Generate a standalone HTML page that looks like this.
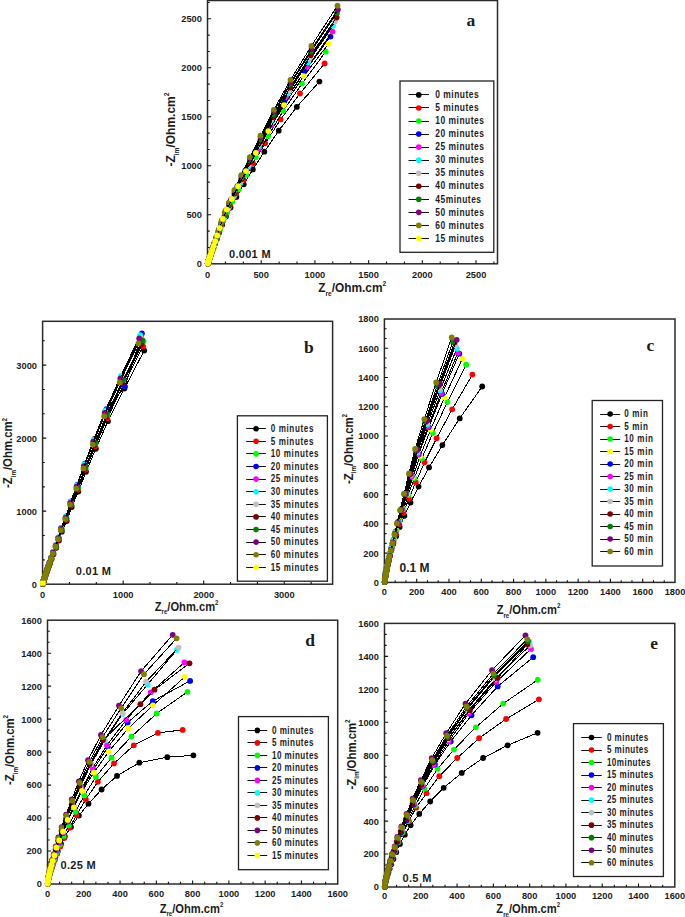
<!DOCTYPE html>
<html><head><meta charset="utf-8"><style>
html,body{margin:0;padding:0;background:#fff;}
body{width:685px;height:917px;overflow:hidden;}
svg{display:block;}
</style></head><body>
<svg width="685" height="917" viewBox="0 0 685 917">
<rect width="685" height="917" fill="#fff"/>
<rect x="207.50" y="0.50" width="290.00" height="263.30" fill="none" stroke="#2a2a2a" stroke-width="1.5"/>
<path d="M225.40 263.80V261.60M243.30 263.80V261.60M261.20 263.80V260.20M279.10 263.80V261.60M297.01 263.80V261.60M314.91 263.80V260.20M332.81 263.80V261.60M350.71 263.80V261.60M368.61 263.80V260.20M386.51 263.80V261.60M404.41 263.80V261.60M422.31 263.80V260.20M440.22 263.80V261.60M458.12 263.80V261.60M476.02 263.80V260.20M493.92 263.80V261.60M207.50 247.47H209.70M207.50 231.13H209.70M207.50 214.80H211.10M207.50 198.47H209.70M207.50 182.13H209.70M207.50 165.80H211.10M207.50 149.47H209.70M207.50 133.13H209.70M207.50 116.80H211.10M207.50 100.47H209.70M207.50 84.13H209.70M207.50 67.80H211.10M207.50 51.47H209.70M207.50 35.13H209.70M207.50 18.80H211.10M207.50 2.47H209.70" stroke="#111" stroke-width="1.1" fill="none"/>
<g font-family="Liberation Sans, sans-serif" font-weight="bold" font-size="9.3" letter-spacing="0.0" fill="#1c1c1c"><text transform="translate(207.50,277.70) scale(1.0,1.05)" text-anchor="middle">0</text><text transform="translate(261.20,277.70) scale(1.0,1.05)" text-anchor="middle">500</text><text transform="translate(314.91,277.70) scale(1.0,1.05)" text-anchor="middle">1000</text><text transform="translate(368.61,277.70) scale(1.0,1.05)" text-anchor="middle">1500</text><text transform="translate(422.31,277.70) scale(1.0,1.05)" text-anchor="middle">2000</text><text transform="translate(476.02,277.70) scale(1.0,1.05)" text-anchor="middle">2500</text><text transform="translate(201.90,267.20) scale(1.0,1.05)" text-anchor="end">0</text><text transform="translate(201.90,218.20) scale(1.0,1.05)" text-anchor="end">500</text><text transform="translate(201.90,169.20) scale(1.0,1.05)" text-anchor="end">1000</text><text transform="translate(201.90,120.20) scale(1.0,1.05)" text-anchor="end">1500</text><text transform="translate(201.90,71.20) scale(1.0,1.05)" text-anchor="end">2000</text><text transform="translate(201.90,22.20) scale(1.0,1.05)" text-anchor="end">2500</text></g>
<clipPath id="cpa"><rect x="203.50" y="-4.80" width="298.00" height="272.60"/></clipPath>
<g clip-path="url(#cpa)">
<path d="M319.40 81.60L296.80 106.88L278.76 130.65L264.36 151.71L252.88 169.44L243.71 184.36L236.40 196.93L230.56 207.50L225.90 216.41L222.18 224.71L219.22 232.60L216.85 238.91L214.96 243.93L213.45 247.95L212.25 251.15L211.29 253.70L210.53 255.74L209.91 257.37L209.43 258.67L209.04 259.71L208.73 260.53L208.48 261.19L208.28 261.72L208.12 262.14L208.00 262.48L207.80 263.50" stroke="#000" stroke-width="1.0" fill="none" shape-rendering="crispEdges"/>
<g fill="#000000"><circle cx="319.40" cy="81.60" r="2.9"/><circle cx="296.80" cy="106.88" r="2.9"/><circle cx="278.76" cy="130.65" r="2.9"/><circle cx="264.36" cy="151.71" r="2.9"/><circle cx="252.88" cy="169.44" r="2.9"/><circle cx="243.71" cy="184.36" r="2.9"/><circle cx="236.40" cy="196.93" r="2.9"/><circle cx="230.56" cy="207.50" r="2.9"/><circle cx="225.90" cy="216.41" r="2.9"/><circle cx="222.18" cy="224.71" r="2.9"/><circle cx="219.22" cy="232.60" r="2.9"/><circle cx="216.85" cy="238.91" r="2.9"/><circle cx="214.96" cy="243.93" r="2.9"/><circle cx="213.45" cy="247.95" r="2.9"/><circle cx="212.25" cy="251.15" r="2.9"/><circle cx="211.29" cy="253.70" r="2.9"/><circle cx="210.53" cy="255.74" r="2.9"/><circle cx="209.91" cy="257.37" r="2.9"/><circle cx="209.43" cy="258.67" r="2.9"/><circle cx="209.04" cy="259.71" r="2.9"/><circle cx="208.73" cy="260.53" r="2.9"/><circle cx="208.48" cy="261.19" r="2.9"/><circle cx="208.28" cy="261.72" r="2.9"/><circle cx="208.12" cy="262.14" r="2.9"/><circle cx="208.00" cy="262.48" r="2.9"/><circle cx="207.80" cy="263.50" r="2.9"/></g>
<path d="M324.60 63.50L300.01 93.49L280.58 119.45L265.23 143.36L253.11 163.30L243.53 179.94L235.97 193.83L229.99 205.42L225.27 215.08L221.53 224.37L218.59 232.65L216.26 239.19L214.42 244.36L212.97 248.44L211.82 251.67L210.91 254.21L210.20 256.23L209.63 257.82L209.18 259.07L208.83 260.07L208.55 260.85L208.33 261.47L208.16 261.96L208.02 262.35L207.91 262.65L207.80 263.50" stroke="#000" stroke-width="1.0" fill="none" shape-rendering="crispEdges"/>
<g fill="#ff0000"><circle cx="324.60" cy="63.50" r="2.9"/><circle cx="300.01" cy="93.49" r="2.9"/><circle cx="280.58" cy="119.45" r="2.9"/><circle cx="265.23" cy="143.36" r="2.9"/><circle cx="253.11" cy="163.30" r="2.9"/><circle cx="243.53" cy="179.94" r="2.9"/><circle cx="235.97" cy="193.83" r="2.9"/><circle cx="229.99" cy="205.42" r="2.9"/><circle cx="225.27" cy="215.08" r="2.9"/><circle cx="221.53" cy="224.37" r="2.9"/><circle cx="218.59" cy="232.65" r="2.9"/><circle cx="216.26" cy="239.19" r="2.9"/><circle cx="214.42" cy="244.36" r="2.9"/><circle cx="212.97" cy="248.44" r="2.9"/><circle cx="211.82" cy="251.67" r="2.9"/><circle cx="210.91" cy="254.21" r="2.9"/><circle cx="210.20" cy="256.23" r="2.9"/><circle cx="209.63" cy="257.82" r="2.9"/><circle cx="209.18" cy="259.07" r="2.9"/><circle cx="208.83" cy="260.07" r="2.9"/><circle cx="208.55" cy="260.85" r="2.9"/><circle cx="208.33" cy="261.47" r="2.9"/><circle cx="208.16" cy="261.96" r="2.9"/><circle cx="208.02" cy="262.35" r="2.9"/><circle cx="207.91" cy="262.65" r="2.9"/><circle cx="207.80" cy="263.50" r="2.9"/></g>
<path d="M325.70 51.70L302.06 83.58L283.15 110.86L268.02 136.15L255.91 157.26L246.23 174.88L238.49 189.58L232.29 201.85L227.33 212.10L223.36 220.71L220.19 229.33L217.65 236.23L215.62 241.74L214.00 246.15L212.70 249.68L211.66 252.51L210.83 254.76L210.16 256.57L209.63 258.02L209.20 259.17L208.86 260.10L208.59 260.84L208.37 261.43L208.20 261.91L208.06 262.28L207.95 262.59L207.80 263.50" stroke="#000" stroke-width="1.0" fill="none" shape-rendering="crispEdges"/>
<g fill="#00ff00"><circle cx="325.70" cy="51.70" r="2.9"/><circle cx="302.06" cy="83.58" r="2.9"/><circle cx="283.15" cy="110.86" r="2.9"/><circle cx="268.02" cy="136.15" r="2.9"/><circle cx="255.91" cy="157.26" r="2.9"/><circle cx="246.23" cy="174.88" r="2.9"/><circle cx="238.49" cy="189.58" r="2.9"/><circle cx="232.29" cy="201.85" r="2.9"/><circle cx="227.33" cy="212.10" r="2.9"/><circle cx="223.36" cy="220.71" r="2.9"/><circle cx="220.19" cy="229.33" r="2.9"/><circle cx="217.65" cy="236.23" r="2.9"/><circle cx="215.62" cy="241.74" r="2.9"/><circle cx="214.00" cy="246.15" r="2.9"/><circle cx="212.70" cy="249.68" r="2.9"/><circle cx="211.66" cy="252.51" r="2.9"/><circle cx="210.83" cy="254.76" r="2.9"/><circle cx="210.16" cy="256.57" r="2.9"/><circle cx="209.63" cy="258.02" r="2.9"/><circle cx="209.20" cy="259.17" r="2.9"/><circle cx="208.86" cy="260.10" r="2.9"/><circle cx="208.59" cy="260.84" r="2.9"/><circle cx="208.37" cy="261.43" r="2.9"/><circle cx="208.20" cy="261.91" r="2.9"/><circle cx="208.06" cy="262.28" r="2.9"/><circle cx="207.95" cy="262.59" r="2.9"/><circle cx="207.80" cy="263.50" r="2.9"/></g>
<path d="M330.50 36.60L304.67 71.34L284.26 101.30L268.14 128.72L255.41 151.51L245.35 170.46L237.40 186.21L231.12 199.30L226.16 210.18L222.24 220.01L219.15 229.21L216.70 236.47L214.77 242.21L213.24 246.74L212.04 250.33L211.08 253.16L210.33 255.39L209.74 257.16L209.27 258.55L208.90 259.65L208.60 260.52L208.37 261.21L208.19 261.76L208.04 262.19L207.93 262.52L207.80 263.50" stroke="#000" stroke-width="1.0" fill="none" shape-rendering="crispEdges"/>
<g fill="#0000ff"><circle cx="330.50" cy="36.60" r="2.9"/><circle cx="304.67" cy="71.34" r="2.9"/><circle cx="284.26" cy="101.30" r="2.9"/><circle cx="268.14" cy="128.72" r="2.9"/><circle cx="255.41" cy="151.51" r="2.9"/><circle cx="245.35" cy="170.46" r="2.9"/><circle cx="237.40" cy="186.21" r="2.9"/><circle cx="231.12" cy="199.30" r="2.9"/><circle cx="226.16" cy="210.18" r="2.9"/><circle cx="222.24" cy="220.01" r="2.9"/><circle cx="219.15" cy="229.21" r="2.9"/><circle cx="216.70" cy="236.47" r="2.9"/><circle cx="214.77" cy="242.21" r="2.9"/><circle cx="213.24" cy="246.74" r="2.9"/><circle cx="212.04" cy="250.33" r="2.9"/><circle cx="211.08" cy="253.16" r="2.9"/><circle cx="210.33" cy="255.39" r="2.9"/><circle cx="209.74" cy="257.16" r="2.9"/><circle cx="209.27" cy="258.55" r="2.9"/><circle cx="208.90" cy="259.65" r="2.9"/><circle cx="208.60" cy="260.52" r="2.9"/><circle cx="208.37" cy="261.21" r="2.9"/><circle cx="208.19" cy="261.76" r="2.9"/><circle cx="208.04" cy="262.19" r="2.9"/><circle cx="207.93" cy="262.52" r="2.9"/><circle cx="207.80" cy="263.50" r="2.9"/></g>
<path d="M332.50 31.60L307.50 67.03L287.50 97.26L271.50 125.17L258.70 148.40L248.46 167.74L240.27 183.84L233.71 197.24L228.47 208.40L224.28 217.68L220.92 226.59L218.24 234.03L216.09 239.99L214.37 244.75L213.00 248.56L211.90 251.61L211.02 254.05L210.31 256.00L209.75 257.56L209.30 258.81L208.94 259.80L208.65 260.60L208.42 261.24L208.24 261.75L208.09 262.16L207.97 262.49L207.80 263.50" stroke="#000" stroke-width="1.0" fill="none" shape-rendering="crispEdges"/>
<g fill="#ff00ff"><circle cx="332.50" cy="31.60" r="2.9"/><circle cx="307.50" cy="67.03" r="2.9"/><circle cx="287.50" cy="97.26" r="2.9"/><circle cx="271.50" cy="125.17" r="2.9"/><circle cx="258.70" cy="148.40" r="2.9"/><circle cx="248.46" cy="167.74" r="2.9"/><circle cx="240.27" cy="183.84" r="2.9"/><circle cx="233.71" cy="197.24" r="2.9"/><circle cx="228.47" cy="208.40" r="2.9"/><circle cx="224.28" cy="217.68" r="2.9"/><circle cx="220.92" cy="226.59" r="2.9"/><circle cx="218.24" cy="234.03" r="2.9"/><circle cx="216.09" cy="239.99" r="2.9"/><circle cx="214.37" cy="244.75" r="2.9"/><circle cx="213.00" cy="248.56" r="2.9"/><circle cx="211.90" cy="251.61" r="2.9"/><circle cx="211.02" cy="254.05" r="2.9"/><circle cx="210.31" cy="256.00" r="2.9"/><circle cx="209.75" cy="257.56" r="2.9"/><circle cx="209.30" cy="258.81" r="2.9"/><circle cx="208.94" cy="259.80" r="2.9"/><circle cx="208.65" cy="260.60" r="2.9"/><circle cx="208.42" cy="261.24" r="2.9"/><circle cx="208.24" cy="261.75" r="2.9"/><circle cx="208.09" cy="262.16" r="2.9"/><circle cx="207.97" cy="262.49" r="2.9"/><circle cx="207.80" cy="263.50" r="2.9"/></g>
<path d="M333.10 25.80L307.98 62.34L287.88 93.48L271.81 122.18L258.95 146.05L248.66 165.89L240.43 182.39L233.84 196.11L228.57 207.52L224.36 217.00L220.99 226.02L218.29 233.58L216.13 239.62L214.40 244.46L213.02 248.33L211.92 251.42L211.04 253.90L210.33 255.88L209.76 257.46L209.31 258.73L208.95 259.74L208.66 260.55L208.43 261.20L208.24 261.72L208.09 262.14L207.97 262.47L207.80 263.50" stroke="#000" stroke-width="1.0" fill="none" shape-rendering="crispEdges"/>
<g fill="#00ffff"><circle cx="333.10" cy="25.80" r="2.9"/><circle cx="307.98" cy="62.34" r="2.9"/><circle cx="287.88" cy="93.48" r="2.9"/><circle cx="271.81" cy="122.18" r="2.9"/><circle cx="258.95" cy="146.05" r="2.9"/><circle cx="248.66" cy="165.89" r="2.9"/><circle cx="240.43" cy="182.39" r="2.9"/><circle cx="233.84" cy="196.11" r="2.9"/><circle cx="228.57" cy="207.52" r="2.9"/><circle cx="224.36" cy="217.00" r="2.9"/><circle cx="220.99" cy="226.02" r="2.9"/><circle cx="218.29" cy="233.58" r="2.9"/><circle cx="216.13" cy="239.62" r="2.9"/><circle cx="214.40" cy="244.46" r="2.9"/><circle cx="213.02" cy="248.33" r="2.9"/><circle cx="211.92" cy="251.42" r="2.9"/><circle cx="211.04" cy="253.90" r="2.9"/><circle cx="210.33" cy="255.88" r="2.9"/><circle cx="209.76" cy="257.46" r="2.9"/><circle cx="209.31" cy="258.73" r="2.9"/><circle cx="208.95" cy="259.74" r="2.9"/><circle cx="208.66" cy="260.55" r="2.9"/><circle cx="208.43" cy="261.20" r="2.9"/><circle cx="208.24" cy="261.72" r="2.9"/><circle cx="208.09" cy="262.14" r="2.9"/><circle cx="207.97" cy="262.47" r="2.9"/><circle cx="207.80" cy="263.50" r="2.9"/></g>
<path d="M335.00 21.50L309.50 58.61L289.10 90.25L272.78 119.43L259.72 143.71L249.28 163.90L240.92 180.70L234.24 194.67L228.89 206.29L224.61 215.96L221.19 225.08L218.45 232.82L216.26 239.02L214.51 243.97L213.11 247.94L211.99 251.11L211.09 253.65L210.37 255.68L209.80 257.30L209.34 258.60L208.97 259.64L208.68 260.47L208.44 261.14L208.25 261.67L208.10 262.10L207.98 262.44L207.80 263.50" stroke="#000" stroke-width="1.0" fill="none" shape-rendering="crispEdges"/>
<g fill="#c0c0c0"><circle cx="335.00" cy="21.50" r="2.9"/><circle cx="309.50" cy="58.61" r="2.9"/><circle cx="289.10" cy="90.25" r="2.9"/><circle cx="272.78" cy="119.43" r="2.9"/><circle cx="259.72" cy="143.71" r="2.9"/><circle cx="249.28" cy="163.90" r="2.9"/><circle cx="240.92" cy="180.70" r="2.9"/><circle cx="234.24" cy="194.67" r="2.9"/><circle cx="228.89" cy="206.29" r="2.9"/><circle cx="224.61" cy="215.96" r="2.9"/><circle cx="221.19" cy="225.08" r="2.9"/><circle cx="218.45" cy="232.82" r="2.9"/><circle cx="216.26" cy="239.02" r="2.9"/><circle cx="214.51" cy="243.97" r="2.9"/><circle cx="213.11" cy="247.94" r="2.9"/><circle cx="211.99" cy="251.11" r="2.9"/><circle cx="211.09" cy="253.65" r="2.9"/><circle cx="210.37" cy="255.68" r="2.9"/><circle cx="209.80" cy="257.30" r="2.9"/><circle cx="209.34" cy="258.60" r="2.9"/><circle cx="208.97" cy="259.64" r="2.9"/><circle cx="208.68" cy="260.47" r="2.9"/><circle cx="208.44" cy="261.14" r="2.9"/><circle cx="208.25" cy="261.67" r="2.9"/><circle cx="208.10" cy="262.10" r="2.9"/><circle cx="207.98" cy="262.44" r="2.9"/><circle cx="207.80" cy="263.50" r="2.9"/></g>
<path d="M336.60 17.50L310.78 55.22L290.12 87.39L273.60 117.05L260.38 141.72L249.80 162.25L241.34 179.33L234.57 193.53L229.16 205.34L224.83 215.17L221.36 224.35L218.59 232.24L216.37 238.55L214.60 243.60L213.18 247.64L212.04 250.87L211.13 253.46L210.41 255.53L209.83 257.18L209.36 258.51L208.99 259.56L208.69 260.41L208.45 261.09L208.26 261.63L208.11 262.07L207.99 262.41L207.80 263.50" stroke="#000" stroke-width="1.0" fill="none" shape-rendering="crispEdges"/>
<g fill="#800000"><circle cx="336.60" cy="17.50" r="2.9"/><circle cx="310.78" cy="55.22" r="2.9"/><circle cx="290.12" cy="87.39" r="2.9"/><circle cx="273.60" cy="117.05" r="2.9"/><circle cx="260.38" cy="141.72" r="2.9"/><circle cx="249.80" cy="162.25" r="2.9"/><circle cx="241.34" cy="179.33" r="2.9"/><circle cx="234.57" cy="193.53" r="2.9"/><circle cx="229.16" cy="205.34" r="2.9"/><circle cx="224.83" cy="215.17" r="2.9"/><circle cx="221.36" cy="224.35" r="2.9"/><circle cx="218.59" cy="232.24" r="2.9"/><circle cx="216.37" cy="238.55" r="2.9"/><circle cx="214.60" cy="243.60" r="2.9"/><circle cx="213.18" cy="247.64" r="2.9"/><circle cx="212.04" cy="250.87" r="2.9"/><circle cx="211.13" cy="253.46" r="2.9"/><circle cx="210.41" cy="255.53" r="2.9"/><circle cx="209.83" cy="257.18" r="2.9"/><circle cx="209.36" cy="258.51" r="2.9"/><circle cx="208.99" cy="259.56" r="2.9"/><circle cx="208.69" cy="260.41" r="2.9"/><circle cx="208.45" cy="261.09" r="2.9"/><circle cx="208.26" cy="261.63" r="2.9"/><circle cx="208.11" cy="262.07" r="2.9"/><circle cx="207.99" cy="262.41" r="2.9"/><circle cx="207.80" cy="263.50" r="2.9"/></g>
<path d="M336.90 13.10L311.02 51.50L290.32 84.24L273.75 114.43L260.50 139.54L249.90 160.44L241.42 177.82L234.64 192.27L229.21 204.30L224.87 214.30L221.39 223.63L218.62 231.66L216.39 238.09L214.61 243.23L213.19 247.35L212.05 250.64L211.14 253.27L210.41 255.38L209.83 257.06L209.36 258.41L208.99 259.49L208.69 260.35L208.45 261.04L208.26 261.59L208.11 262.03L207.99 262.39L207.80 263.50" stroke="#000" stroke-width="1.0" fill="none" shape-rendering="crispEdges"/>
<g fill="#008000"><circle cx="336.90" cy="13.10" r="2.9"/><circle cx="311.02" cy="51.50" r="2.9"/><circle cx="290.32" cy="84.24" r="2.9"/><circle cx="273.75" cy="114.43" r="2.9"/><circle cx="260.50" cy="139.54" r="2.9"/><circle cx="249.90" cy="160.44" r="2.9"/><circle cx="241.42" cy="177.82" r="2.9"/><circle cx="234.64" cy="192.27" r="2.9"/><circle cx="229.21" cy="204.30" r="2.9"/><circle cx="224.87" cy="214.30" r="2.9"/><circle cx="221.39" cy="223.63" r="2.9"/><circle cx="218.62" cy="231.66" r="2.9"/><circle cx="216.39" cy="238.09" r="2.9"/><circle cx="214.61" cy="243.23" r="2.9"/><circle cx="213.19" cy="247.35" r="2.9"/><circle cx="212.05" cy="250.64" r="2.9"/><circle cx="211.14" cy="253.27" r="2.9"/><circle cx="210.41" cy="255.38" r="2.9"/><circle cx="209.83" cy="257.06" r="2.9"/><circle cx="209.36" cy="258.41" r="2.9"/><circle cx="208.99" cy="259.49" r="2.9"/><circle cx="208.69" cy="260.35" r="2.9"/><circle cx="208.45" cy="261.04" r="2.9"/><circle cx="208.26" cy="261.59" r="2.9"/><circle cx="208.11" cy="262.03" r="2.9"/><circle cx="207.99" cy="262.39" r="2.9"/><circle cx="207.80" cy="263.50" r="2.9"/></g>
<path d="M337.90 9.60L311.69 48.97L290.75 82.25L274.01 111.56L260.65 137.01L249.96 158.20L241.43 175.85L234.61 190.55L229.16 202.79L224.81 212.99L221.33 222.61L218.55 230.89L216.33 237.50L214.55 242.79L213.14 247.01L212.00 250.39L211.10 253.08L210.37 255.24L209.80 256.96L209.34 258.33L208.97 259.43L208.67 260.31L208.44 261.01L208.25 261.57L208.10 262.02L207.98 262.38L207.80 263.50" stroke="#000" stroke-width="1.0" fill="none" shape-rendering="crispEdges"/>
<g fill="#800080"><circle cx="337.90" cy="9.60" r="2.9"/><circle cx="311.69" cy="48.97" r="2.9"/><circle cx="290.75" cy="82.25" r="2.9"/><circle cx="274.01" cy="111.56" r="2.9"/><circle cx="260.65" cy="137.01" r="2.9"/><circle cx="249.96" cy="158.20" r="2.9"/><circle cx="241.43" cy="175.85" r="2.9"/><circle cx="234.61" cy="190.55" r="2.9"/><circle cx="229.16" cy="202.79" r="2.9"/><circle cx="224.81" cy="212.99" r="2.9"/><circle cx="221.33" cy="222.61" r="2.9"/><circle cx="218.55" cy="230.89" r="2.9"/><circle cx="216.33" cy="237.50" r="2.9"/><circle cx="214.55" cy="242.79" r="2.9"/><circle cx="213.14" cy="247.01" r="2.9"/><circle cx="212.00" cy="250.39" r="2.9"/><circle cx="211.10" cy="253.08" r="2.9"/><circle cx="210.37" cy="255.24" r="2.9"/><circle cx="209.80" cy="256.96" r="2.9"/><circle cx="209.34" cy="258.33" r="2.9"/><circle cx="208.97" cy="259.43" r="2.9"/><circle cx="208.67" cy="260.31" r="2.9"/><circle cx="208.44" cy="261.01" r="2.9"/><circle cx="208.25" cy="261.57" r="2.9"/><circle cx="208.10" cy="262.02" r="2.9"/><circle cx="207.98" cy="262.38" r="2.9"/><circle cx="207.80" cy="263.50" r="2.9"/></g>
<path d="M337.50 5.70L311.37 45.97L290.49 79.96L273.81 109.81L260.48 135.66L249.83 157.18L241.32 175.08L234.53 189.97L229.09 202.37L224.75 212.68L221.29 222.39L218.51 230.72L216.30 237.37L214.53 242.68L213.12 246.92L211.99 250.32L211.09 253.03L210.37 255.19L209.79 256.92L209.33 258.30L208.96 259.41L208.67 260.29L208.43 261.00L208.25 261.56L208.10 262.01L207.98 262.37L207.80 263.50" stroke="#000" stroke-width="1.0" fill="none" shape-rendering="crispEdges"/>
<g fill="#808000"><circle cx="337.50" cy="5.70" r="2.9"/><circle cx="311.37" cy="45.97" r="2.9"/><circle cx="290.49" cy="79.96" r="2.9"/><circle cx="273.81" cy="109.81" r="2.9"/><circle cx="260.48" cy="135.66" r="2.9"/><circle cx="249.83" cy="157.18" r="2.9"/><circle cx="241.32" cy="175.08" r="2.9"/><circle cx="234.53" cy="189.97" r="2.9"/><circle cx="229.09" cy="202.37" r="2.9"/><circle cx="224.75" cy="212.68" r="2.9"/><circle cx="221.29" cy="222.39" r="2.9"/><circle cx="218.51" cy="230.72" r="2.9"/><circle cx="216.30" cy="237.37" r="2.9"/><circle cx="214.53" cy="242.68" r="2.9"/><circle cx="213.12" cy="246.92" r="2.9"/><circle cx="211.99" cy="250.32" r="2.9"/><circle cx="211.09" cy="253.03" r="2.9"/><circle cx="210.37" cy="255.19" r="2.9"/><circle cx="209.79" cy="256.92" r="2.9"/><circle cx="209.33" cy="258.30" r="2.9"/><circle cx="208.96" cy="259.41" r="2.9"/><circle cx="208.67" cy="260.29" r="2.9"/><circle cx="208.43" cy="261.00" r="2.9"/><circle cx="208.25" cy="261.56" r="2.9"/><circle cx="208.10" cy="262.01" r="2.9"/><circle cx="207.98" cy="262.37" r="2.9"/><circle cx="207.80" cy="263.50" r="2.9"/></g>
<path d="M328.60 43.80L303.77 76.05L284.04 105.04L268.35 131.08L255.87 152.85L245.96 171.05L238.07 186.27L231.81 198.99L226.82 209.62L222.86 218.91L219.71 228.11L217.21 235.43L215.22 241.24L213.64 245.87L212.38 249.54L211.38 252.47L210.58 254.79L209.95 256.64L209.45 258.11L209.05 259.27L208.73 260.20L208.48 260.94L208.28 261.53L208.12 261.99L207.99 262.36L207.80 263.50" stroke="#000" stroke-width="1.0" fill="none" shape-rendering="crispEdges"/>
<g fill="#ffff00"><circle cx="328.60" cy="43.80" r="2.9"/><circle cx="303.77" cy="76.05" r="2.9"/><circle cx="284.04" cy="105.04" r="2.9"/><circle cx="268.35" cy="131.08" r="2.9"/><circle cx="255.87" cy="152.85" r="2.9"/><circle cx="245.96" cy="171.05" r="2.9"/><circle cx="238.07" cy="186.27" r="2.9"/><circle cx="231.81" cy="198.99" r="2.9"/><circle cx="226.82" cy="209.62" r="2.9"/><circle cx="222.86" cy="218.91" r="2.9"/><circle cx="219.71" cy="228.11" r="2.9"/><circle cx="217.21" cy="235.43" r="2.9"/><circle cx="215.22" cy="241.24" r="2.9"/><circle cx="213.64" cy="245.87" r="2.9"/><circle cx="212.38" cy="249.54" r="2.9"/><circle cx="211.38" cy="252.47" r="2.9"/><circle cx="210.58" cy="254.79" r="2.9"/><circle cx="209.95" cy="256.64" r="2.9"/><circle cx="209.45" cy="258.11" r="2.9"/><circle cx="209.05" cy="259.27" r="2.9"/><circle cx="208.73" cy="260.20" r="2.9"/><circle cx="208.48" cy="260.94" r="2.9"/><circle cx="208.28" cy="261.53" r="2.9"/><circle cx="208.12" cy="261.99" r="2.9"/><circle cx="207.99" cy="262.36" r="2.9"/><circle cx="207.80" cy="263.50" r="2.9"/></g>
</g>
<rect x="400.00" y="81.00" width="93.80" height="171.30" fill="#fff" stroke="#222" stroke-width="1.3"/>
<path d="M408.50 94.50h20.50" stroke="#111" stroke-width="1"/><circle cx="418.75" cy="94.90" r="2.8" fill="#000000"/><path d="M408.50 107.50h20.50" stroke="#111" stroke-width="1"/><circle cx="418.75" cy="107.95" r="2.8" fill="#ff0000"/><path d="M408.50 121.50h20.50" stroke="#111" stroke-width="1"/><circle cx="418.75" cy="121.00" r="2.8" fill="#00ff00"/><path d="M408.50 134.50h20.50" stroke="#111" stroke-width="1"/><circle cx="418.75" cy="134.05" r="2.8" fill="#0000ff"/><path d="M408.50 147.50h20.50" stroke="#111" stroke-width="1"/><circle cx="418.75" cy="147.10" r="2.8" fill="#ff00ff"/><path d="M408.50 160.50h20.50" stroke="#111" stroke-width="1"/><circle cx="418.75" cy="160.15" r="2.8" fill="#00ffff"/><path d="M408.50 173.50h20.50" stroke="#111" stroke-width="1"/><circle cx="418.75" cy="173.20" r="2.8" fill="#c0c0c0"/><path d="M408.50 186.50h20.50" stroke="#111" stroke-width="1"/><circle cx="418.75" cy="186.25" r="2.8" fill="#800000"/><path d="M408.50 199.50h20.50" stroke="#111" stroke-width="1"/><circle cx="418.75" cy="199.30" r="2.8" fill="#008000"/><path d="M408.50 212.50h20.50" stroke="#111" stroke-width="1"/><circle cx="418.75" cy="212.35" r="2.8" fill="#800080"/><path d="M408.50 225.50h20.50" stroke="#111" stroke-width="1"/><circle cx="418.75" cy="225.40" r="2.8" fill="#808000"/><path d="M408.50 238.50h20.50" stroke="#111" stroke-width="1"/><circle cx="418.75" cy="238.45" r="2.8" fill="#ffff00"/>
<g font-family="Liberation Sans, sans-serif" font-weight="bold" font-size="9.4" letter-spacing="0.55" fill="#1c1c1c"><text transform="translate(435.30,98.10) scale(0.9,1.13)">0 minutes</text><text transform="translate(435.30,111.15) scale(0.9,1.13)">5 minutes</text><text transform="translate(435.30,124.20) scale(0.9,1.13)">10 minutes</text><text transform="translate(435.30,137.25) scale(0.9,1.13)">20 minutes</text><text transform="translate(435.30,150.30) scale(0.9,1.13)">25 minutes</text><text transform="translate(435.30,163.35) scale(0.9,1.13)">30 minutes</text><text transform="translate(435.30,176.40) scale(0.9,1.13)">35 minutes</text><text transform="translate(435.30,189.45) scale(0.9,1.13)">40 minutes</text><text transform="translate(435.30,202.50) scale(0.9,1.13)">45minutes</text><text transform="translate(435.30,215.55) scale(0.9,1.13)">50 minutes</text><text transform="translate(435.30,228.60) scale(0.9,1.13)">60 minutes</text><text transform="translate(435.30,241.65) scale(0.9,1.13)">15 minutes</text></g>
<text transform="translate(174.70,129.60) rotate(-90) scale(0.93,1.05)" text-anchor="middle" font-family="Liberation Sans, sans-serif" font-weight="bold" font-size="12.9" fill="#1c1c1c">-Z<tspan font-size="7.10" dy="3.87">im</tspan><tspan dy="-3.87">/Ohm.cm</tspan><tspan font-size="7.10" dy="-5.81">2</tspan></text>
<text transform="translate(352.20,292.40) scale(0.93,1.05)" text-anchor="middle" font-family="Liberation Sans, sans-serif" font-weight="bold" font-size="12.8" fill="#1c1c1c">Z<tspan font-size="7.04" dy="3.84">re</tspan><tspan dy="-3.84">/Ohm.cm</tspan><tspan font-size="7.04" dy="-5.76">2</tspan></text>
<text x="466.60" y="25.70" font-family="Liberation Serif, serif" font-weight="bold" font-size="17.5" fill="#1c1c1c">a</text>
<text x="229.00" y="257.60" font-family="Liberation Sans, sans-serif" font-weight="bold" font-size="11.0" letter-spacing="0.3" fill="#1c1c1c">0.001 M</text>
<rect x="42.60" y="321.30" width="290.00" height="262.90" fill="none" stroke="#2a2a2a" stroke-width="1.5"/>
<path d="M69.45 584.20V582.00M96.30 584.20V582.00M123.16 584.20V580.60M150.01 584.20V582.00M176.86 584.20V582.00M203.71 584.20V580.60M230.56 584.20V582.00M257.41 584.20V582.00M284.27 584.20V580.60M311.12 584.20V582.00M42.60 559.86H44.80M42.60 535.51H44.80M42.60 511.17H46.20M42.60 486.83H44.80M42.60 462.49H44.80M42.60 438.14H46.20M42.60 413.80H44.80M42.60 389.46H44.80M42.60 365.12H46.20M42.60 340.77H44.80" stroke="#111" stroke-width="1.1" fill="none"/>
<g font-family="Liberation Sans, sans-serif" font-weight="bold" font-size="9.3" letter-spacing="0.0" fill="#1c1c1c"><text transform="translate(42.60,598.30) scale(1.0,1.05)" text-anchor="middle">0</text><text transform="translate(123.16,598.30) scale(1.0,1.05)" text-anchor="middle">1000</text><text transform="translate(203.71,598.30) scale(1.0,1.05)" text-anchor="middle">2000</text><text transform="translate(284.27,598.30) scale(1.0,1.05)" text-anchor="middle">3000</text><text transform="translate(37.00,587.60) scale(1.0,1.05)" text-anchor="end">0</text><text transform="translate(37.00,514.57) scale(1.0,1.05)" text-anchor="end">1000</text><text transform="translate(37.00,441.54) scale(1.0,1.05)" text-anchor="end">2000</text><text transform="translate(37.00,368.52) scale(1.0,1.05)" text-anchor="end">3000</text></g>
<clipPath id="cpb"><rect x="38.60" y="317.30" width="298.00" height="270.90"/></clipPath>
<g clip-path="url(#cpb)">
<path d="M144.20 350.60L124.37 388.53L107.93 421.22L95.84 448.77L85.98 471.86L78.34 491.56L71.66 506.98L66.67 521.05L61.80 531.72L58.93 540.55L56.28 547.82L53.42 554.22L51.47 559.33L49.87 563.56L48.56 567.07L47.49 569.99L46.61 572.40L45.89 574.41L45.30 576.08L44.81 577.46L44.41 578.61L44.09 579.56L43.82 580.35L43.60 581.00L43.42 581.55L43.27 582.00L43.15 582.37L43.05 582.68L42.90 583.90" stroke="#000" stroke-width="1.0" fill="none" shape-rendering="crispEdges"/>
<g fill="#000000"><circle cx="144.20" cy="350.60" r="2.9"/><circle cx="124.37" cy="388.53" r="2.9"/><circle cx="107.93" cy="421.22" r="2.9"/><circle cx="95.84" cy="448.77" r="2.9"/><circle cx="85.98" cy="471.86" r="2.9"/><circle cx="78.34" cy="491.56" r="2.9"/><circle cx="71.66" cy="506.98" r="2.9"/><circle cx="66.67" cy="521.05" r="2.9"/><circle cx="61.80" cy="531.72" r="2.9"/><circle cx="58.93" cy="540.55" r="2.9"/><circle cx="56.28" cy="547.82" r="2.9"/><circle cx="53.42" cy="554.22" r="2.9"/><circle cx="51.47" cy="559.33" r="2.9"/><circle cx="49.87" cy="563.56" r="2.9"/><circle cx="48.56" cy="567.07" r="2.9"/><circle cx="47.49" cy="569.99" r="2.9"/><circle cx="46.61" cy="572.40" r="2.9"/><circle cx="45.89" cy="574.41" r="2.9"/><circle cx="45.30" cy="576.08" r="2.9"/><circle cx="44.81" cy="577.46" r="2.9"/><circle cx="44.41" cy="578.61" r="2.9"/><circle cx="44.09" cy="579.56" r="2.9"/><circle cx="43.82" cy="580.35" r="2.9"/><circle cx="43.60" cy="581.00" r="2.9"/><circle cx="43.42" cy="581.55" r="2.9"/><circle cx="43.27" cy="582.00" r="2.9"/><circle cx="43.15" cy="582.37" r="2.9"/><circle cx="43.05" cy="582.68" r="2.9"/><circle cx="42.90" cy="583.90" r="2.9"/></g>
<path d="M143.10 346.30L123.48 384.93L107.22 418.22L95.26 446.28L85.51 469.79L77.95 489.85L71.34 505.56L66.41 519.88L61.59 530.75L58.76 539.74L56.13 547.15L53.30 553.67L51.37 558.87L49.79 563.18L48.50 566.76L47.44 569.72L46.57 572.19L45.85 574.23L45.27 575.93L44.79 577.34L44.39 578.50L44.07 579.47L43.81 580.28L43.59 580.95L43.41 581.50L43.26 581.96L43.15 582.34L43.05 582.66L42.90 583.90" stroke="#000" stroke-width="1.0" fill="none" shape-rendering="crispEdges"/>
<g fill="#ff0000"><circle cx="143.10" cy="346.30" r="2.9"/><circle cx="123.48" cy="384.93" r="2.9"/><circle cx="107.22" cy="418.22" r="2.9"/><circle cx="95.26" cy="446.28" r="2.9"/><circle cx="85.51" cy="469.79" r="2.9"/><circle cx="77.95" cy="489.85" r="2.9"/><circle cx="71.34" cy="505.56" r="2.9"/><circle cx="66.41" cy="519.88" r="2.9"/><circle cx="61.59" cy="530.75" r="2.9"/><circle cx="58.76" cy="539.74" r="2.9"/><circle cx="56.13" cy="547.15" r="2.9"/><circle cx="53.30" cy="553.67" r="2.9"/><circle cx="51.37" cy="558.87" r="2.9"/><circle cx="49.79" cy="563.18" r="2.9"/><circle cx="48.50" cy="566.76" r="2.9"/><circle cx="47.44" cy="569.72" r="2.9"/><circle cx="46.57" cy="572.19" r="2.9"/><circle cx="45.85" cy="574.23" r="2.9"/><circle cx="45.27" cy="575.93" r="2.9"/><circle cx="44.79" cy="577.34" r="2.9"/><circle cx="44.39" cy="578.50" r="2.9"/><circle cx="44.07" cy="579.47" r="2.9"/><circle cx="43.81" cy="580.28" r="2.9"/><circle cx="43.59" cy="580.95" r="2.9"/><circle cx="43.41" cy="581.50" r="2.9"/><circle cx="43.26" cy="581.96" r="2.9"/><circle cx="43.15" cy="582.34" r="2.9"/><circle cx="43.05" cy="582.66" r="2.9"/><circle cx="42.90" cy="583.90" r="2.9"/></g>
<path d="M143.60 341.60L123.88 380.99L107.54 414.94L95.52 443.56L85.72 467.53L78.13 487.99L71.49 504.00L66.53 518.61L61.68 529.70L58.84 538.86L56.20 546.42L53.35 553.07L51.42 558.37L49.83 562.76L48.53 566.41L47.46 569.44L46.59 571.95L45.87 574.04L45.28 575.76L44.80 577.20L44.40 578.39L44.08 579.38L43.81 580.20L43.59 580.88L43.41 581.45L43.27 581.91L43.15 582.30L43.05 582.63L42.90 583.90" stroke="#000" stroke-width="1.0" fill="none" shape-rendering="crispEdges"/>
<g fill="#00ff00"><circle cx="143.60" cy="341.60" r="2.9"/><circle cx="123.88" cy="380.99" r="2.9"/><circle cx="107.54" cy="414.94" r="2.9"/><circle cx="95.52" cy="443.56" r="2.9"/><circle cx="85.72" cy="467.53" r="2.9"/><circle cx="78.13" cy="487.99" r="2.9"/><circle cx="71.49" cy="504.00" r="2.9"/><circle cx="66.53" cy="518.61" r="2.9"/><circle cx="61.68" cy="529.70" r="2.9"/><circle cx="58.84" cy="538.86" r="2.9"/><circle cx="56.20" cy="546.42" r="2.9"/><circle cx="53.35" cy="553.07" r="2.9"/><circle cx="51.42" cy="558.37" r="2.9"/><circle cx="49.83" cy="562.76" r="2.9"/><circle cx="48.53" cy="566.41" r="2.9"/><circle cx="47.46" cy="569.44" r="2.9"/><circle cx="46.59" cy="571.95" r="2.9"/><circle cx="45.87" cy="574.04" r="2.9"/><circle cx="45.28" cy="575.76" r="2.9"/><circle cx="44.80" cy="577.20" r="2.9"/><circle cx="44.40" cy="578.39" r="2.9"/><circle cx="44.08" cy="579.38" r="2.9"/><circle cx="43.81" cy="580.20" r="2.9"/><circle cx="43.59" cy="580.88" r="2.9"/><circle cx="43.41" cy="581.45" r="2.9"/><circle cx="43.27" cy="581.91" r="2.9"/><circle cx="43.15" cy="582.30" r="2.9"/><circle cx="43.05" cy="582.63" r="2.9"/><circle cx="42.90" cy="583.90" r="2.9"/></g>
<path d="M141.90 333.40L125.00 386.60L106.45 409.22L94.63 438.80L84.99 463.59L77.53 484.73L71.00 501.29L66.13 516.40L61.36 527.85L58.56 537.33L55.97 545.14L53.17 552.02L51.27 557.49L49.71 562.04L48.43 565.81L47.38 568.94L46.52 571.54L45.81 573.69L45.24 575.48L44.76 576.96L44.37 578.20L44.05 579.22L43.79 580.07L43.58 580.77L43.40 581.35L43.26 581.84L43.14 582.24L43.04 582.57L42.90 583.90" stroke="#000" stroke-width="1.0" fill="none" shape-rendering="crispEdges"/>
<g fill="#0000ff"><circle cx="141.90" cy="333.40" r="2.9"/><circle cx="125.00" cy="386.60" r="2.9"/><circle cx="106.45" cy="409.22" r="2.9"/><circle cx="94.63" cy="438.80" r="2.9"/><circle cx="84.99" cy="463.59" r="2.9"/><circle cx="77.53" cy="484.73" r="2.9"/><circle cx="71.00" cy="501.29" r="2.9"/><circle cx="66.13" cy="516.40" r="2.9"/><circle cx="61.36" cy="527.85" r="2.9"/><circle cx="58.56" cy="537.33" r="2.9"/><circle cx="55.97" cy="545.14" r="2.9"/><circle cx="53.17" cy="552.02" r="2.9"/><circle cx="51.27" cy="557.49" r="2.9"/><circle cx="49.71" cy="562.04" r="2.9"/><circle cx="48.43" cy="565.81" r="2.9"/><circle cx="47.38" cy="568.94" r="2.9"/><circle cx="46.52" cy="571.54" r="2.9"/><circle cx="45.81" cy="573.69" r="2.9"/><circle cx="45.24" cy="575.48" r="2.9"/><circle cx="44.76" cy="576.96" r="2.9"/><circle cx="44.37" cy="578.20" r="2.9"/><circle cx="44.05" cy="579.22" r="2.9"/><circle cx="43.79" cy="580.07" r="2.9"/><circle cx="43.58" cy="580.77" r="2.9"/><circle cx="43.40" cy="581.35" r="2.9"/><circle cx="43.26" cy="581.84" r="2.9"/><circle cx="43.14" cy="582.24" r="2.9"/><circle cx="43.04" cy="582.57" r="2.9"/><circle cx="42.90" cy="583.90" r="2.9"/></g>
<path d="M141.00 336.00L121.79 376.30L105.87 411.04L94.16 440.31L84.61 464.84L77.21 485.77L70.74 502.15L65.92 517.10L61.19 528.44L58.42 537.82L55.85 545.55L53.08 552.35L51.19 557.77L49.64 562.27L48.38 566.00L47.34 569.10L46.48 571.67L45.79 573.80L45.21 575.57L44.74 577.04L44.36 578.26L44.04 579.27L43.78 580.11L43.57 580.80L43.39 581.38L43.25 581.86L43.13 582.26L43.04 582.59L42.90 583.90" stroke="#000" stroke-width="1.0" fill="none" shape-rendering="crispEdges"/>
<g fill="#ff00ff"><circle cx="141.00" cy="336.00" r="2.9"/><circle cx="121.79" cy="376.30" r="2.9"/><circle cx="105.87" cy="411.04" r="2.9"/><circle cx="94.16" cy="440.31" r="2.9"/><circle cx="84.61" cy="464.84" r="2.9"/><circle cx="77.21" cy="485.77" r="2.9"/><circle cx="70.74" cy="502.15" r="2.9"/><circle cx="65.92" cy="517.10" r="2.9"/><circle cx="61.19" cy="528.44" r="2.9"/><circle cx="58.42" cy="537.82" r="2.9"/><circle cx="55.85" cy="545.55" r="2.9"/><circle cx="53.08" cy="552.35" r="2.9"/><circle cx="51.19" cy="557.77" r="2.9"/><circle cx="49.64" cy="562.27" r="2.9"/><circle cx="48.38" cy="566.00" r="2.9"/><circle cx="47.34" cy="569.10" r="2.9"/><circle cx="46.48" cy="571.67" r="2.9"/><circle cx="45.79" cy="573.80" r="2.9"/><circle cx="45.21" cy="575.57" r="2.9"/><circle cx="44.74" cy="577.04" r="2.9"/><circle cx="44.36" cy="578.26" r="2.9"/><circle cx="44.04" cy="579.27" r="2.9"/><circle cx="43.78" cy="580.11" r="2.9"/><circle cx="43.57" cy="580.80" r="2.9"/><circle cx="43.39" cy="581.38" r="2.9"/><circle cx="43.25" cy="581.86" r="2.9"/><circle cx="43.13" cy="582.26" r="2.9"/><circle cx="43.04" cy="582.59" r="2.9"/><circle cx="42.90" cy="583.90" r="2.9"/></g>
<path d="M140.10 335.20L121.07 375.63L105.29 410.48L93.69 439.85L84.23 464.46L76.90 485.45L70.49 501.89L65.70 516.88L61.02 528.26L58.27 537.67L55.73 545.42L52.98 552.25L51.11 557.69L49.58 562.20L48.32 565.94L47.29 569.05L46.45 571.63L45.76 573.77L45.19 575.54L44.72 577.02L44.34 578.24L44.03 579.25L43.77 580.09L43.56 580.79L43.39 581.37L43.25 581.85L43.13 582.25L43.03 582.58L42.90 583.90" stroke="#000" stroke-width="1.0" fill="none" shape-rendering="crispEdges"/>
<g fill="#00ffff"><circle cx="140.10" cy="335.20" r="2.9"/><circle cx="121.07" cy="375.63" r="2.9"/><circle cx="105.29" cy="410.48" r="2.9"/><circle cx="93.69" cy="439.85" r="2.9"/><circle cx="84.23" cy="464.46" r="2.9"/><circle cx="76.90" cy="485.45" r="2.9"/><circle cx="70.49" cy="501.89" r="2.9"/><circle cx="65.70" cy="516.88" r="2.9"/><circle cx="61.02" cy="528.26" r="2.9"/><circle cx="58.27" cy="537.67" r="2.9"/><circle cx="55.73" cy="545.42" r="2.9"/><circle cx="52.98" cy="552.25" r="2.9"/><circle cx="51.11" cy="557.69" r="2.9"/><circle cx="49.58" cy="562.20" r="2.9"/><circle cx="48.32" cy="565.94" r="2.9"/><circle cx="47.29" cy="569.05" r="2.9"/><circle cx="46.45" cy="571.63" r="2.9"/><circle cx="45.76" cy="573.77" r="2.9"/><circle cx="45.19" cy="575.54" r="2.9"/><circle cx="44.72" cy="577.02" r="2.9"/><circle cx="44.34" cy="578.24" r="2.9"/><circle cx="44.03" cy="579.25" r="2.9"/><circle cx="43.77" cy="580.09" r="2.9"/><circle cx="43.56" cy="580.79" r="2.9"/><circle cx="43.39" cy="581.37" r="2.9"/><circle cx="43.25" cy="581.85" r="2.9"/><circle cx="43.13" cy="582.25" r="2.9"/><circle cx="43.03" cy="582.58" r="2.9"/><circle cx="42.90" cy="583.90" r="2.9"/></g>
<path d="M140.50 338.00L121.39 377.98L105.55 412.43L93.90 441.47L84.40 465.80L77.04 486.56L70.60 502.81L65.80 517.64L61.10 528.89L58.34 538.19L55.78 545.86L53.02 552.61L51.15 557.98L49.61 562.44L48.35 566.15L47.31 569.22L46.46 571.77L45.77 573.88L45.20 575.64L44.73 577.10L44.35 578.31L44.03 579.31L43.77 580.14L43.56 580.83L43.39 581.40L43.25 581.88L43.13 582.28L43.04 582.60L42.90 583.90" stroke="#000" stroke-width="1.0" fill="none" shape-rendering="crispEdges"/>
<g fill="#c0c0c0"><circle cx="140.50" cy="338.00" r="2.9"/><circle cx="121.39" cy="377.98" r="2.9"/><circle cx="105.55" cy="412.43" r="2.9"/><circle cx="93.90" cy="441.47" r="2.9"/><circle cx="84.40" cy="465.80" r="2.9"/><circle cx="77.04" cy="486.56" r="2.9"/><circle cx="70.60" cy="502.81" r="2.9"/><circle cx="65.80" cy="517.64" r="2.9"/><circle cx="61.10" cy="528.89" r="2.9"/><circle cx="58.34" cy="538.19" r="2.9"/><circle cx="55.78" cy="545.86" r="2.9"/><circle cx="53.02" cy="552.61" r="2.9"/><circle cx="51.15" cy="557.98" r="2.9"/><circle cx="49.61" cy="562.44" r="2.9"/><circle cx="48.35" cy="566.15" r="2.9"/><circle cx="47.31" cy="569.22" r="2.9"/><circle cx="46.46" cy="571.77" r="2.9"/><circle cx="45.77" cy="573.88" r="2.9"/><circle cx="45.20" cy="575.64" r="2.9"/><circle cx="44.73" cy="577.10" r="2.9"/><circle cx="44.35" cy="578.31" r="2.9"/><circle cx="44.03" cy="579.31" r="2.9"/><circle cx="43.77" cy="580.14" r="2.9"/><circle cx="43.56" cy="580.83" r="2.9"/><circle cx="43.39" cy="581.40" r="2.9"/><circle cx="43.25" cy="581.88" r="2.9"/><circle cx="43.13" cy="582.28" r="2.9"/><circle cx="43.04" cy="582.60" r="2.9"/><circle cx="42.90" cy="583.90" r="2.9"/></g>
<path d="M141.50 344.00L122.19 383.00L106.19 416.62L94.42 444.95L84.82 468.69L77.39 488.94L70.89 504.80L66.03 519.26L61.29 530.23L58.50 539.31L55.92 546.79L53.13 553.38L51.23 558.62L49.68 562.98L48.41 566.59L47.36 569.58L46.50 572.07L45.80 574.14L45.22 575.85L44.75 577.27L44.37 578.45L44.05 579.43L43.79 580.24L43.57 580.91L43.40 581.47L43.25 581.94L43.14 582.32L43.04 582.64L42.90 583.90" stroke="#000" stroke-width="1.0" fill="none" shape-rendering="crispEdges"/>
<g fill="#800000"><circle cx="141.50" cy="344.00" r="2.9"/><circle cx="122.19" cy="383.00" r="2.9"/><circle cx="106.19" cy="416.62" r="2.9"/><circle cx="94.42" cy="444.95" r="2.9"/><circle cx="84.82" cy="468.69" r="2.9"/><circle cx="77.39" cy="488.94" r="2.9"/><circle cx="70.89" cy="504.80" r="2.9"/><circle cx="66.03" cy="519.26" r="2.9"/><circle cx="61.29" cy="530.23" r="2.9"/><circle cx="58.50" cy="539.31" r="2.9"/><circle cx="55.92" cy="546.79" r="2.9"/><circle cx="53.13" cy="553.38" r="2.9"/><circle cx="51.23" cy="558.62" r="2.9"/><circle cx="49.68" cy="562.98" r="2.9"/><circle cx="48.41" cy="566.59" r="2.9"/><circle cx="47.36" cy="569.58" r="2.9"/><circle cx="46.50" cy="572.07" r="2.9"/><circle cx="45.80" cy="574.14" r="2.9"/><circle cx="45.22" cy="575.85" r="2.9"/><circle cx="44.75" cy="577.27" r="2.9"/><circle cx="44.37" cy="578.45" r="2.9"/><circle cx="44.05" cy="579.43" r="2.9"/><circle cx="43.79" cy="580.24" r="2.9"/><circle cx="43.57" cy="580.91" r="2.9"/><circle cx="43.40" cy="581.47" r="2.9"/><circle cx="43.25" cy="581.94" r="2.9"/><circle cx="43.14" cy="582.32" r="2.9"/><circle cx="43.04" cy="582.64" r="2.9"/><circle cx="42.90" cy="583.90" r="2.9"/></g>
<path d="M142.50 340.50L123.00 380.07L106.84 414.18L94.95 442.92L85.25 467.01L77.74 487.55L71.17 503.64L66.27 518.32L61.47 529.45L58.66 538.66L56.05 546.25L53.24 552.93L51.32 558.25L49.75 562.67L48.46 566.33L47.41 569.37L46.54 571.89L45.83 573.99L45.25 575.73L44.77 577.17L44.38 578.37L44.06 579.36L43.80 580.18L43.58 580.87L43.41 581.43L43.26 581.90L43.14 582.29L43.04 582.62L42.90 583.90" stroke="#000" stroke-width="1.0" fill="none" shape-rendering="crispEdges"/>
<g fill="#008000"><circle cx="142.50" cy="340.50" r="2.9"/><circle cx="123.00" cy="380.07" r="2.9"/><circle cx="106.84" cy="414.18" r="2.9"/><circle cx="94.95" cy="442.92" r="2.9"/><circle cx="85.25" cy="467.01" r="2.9"/><circle cx="77.74" cy="487.55" r="2.9"/><circle cx="71.17" cy="503.64" r="2.9"/><circle cx="66.27" cy="518.32" r="2.9"/><circle cx="61.47" cy="529.45" r="2.9"/><circle cx="58.66" cy="538.66" r="2.9"/><circle cx="56.05" cy="546.25" r="2.9"/><circle cx="53.24" cy="552.93" r="2.9"/><circle cx="51.32" cy="558.25" r="2.9"/><circle cx="49.75" cy="562.67" r="2.9"/><circle cx="48.46" cy="566.33" r="2.9"/><circle cx="47.41" cy="569.37" r="2.9"/><circle cx="46.54" cy="571.89" r="2.9"/><circle cx="45.83" cy="573.99" r="2.9"/><circle cx="45.25" cy="575.73" r="2.9"/><circle cx="44.77" cy="577.17" r="2.9"/><circle cx="44.38" cy="578.37" r="2.9"/><circle cx="44.06" cy="579.36" r="2.9"/><circle cx="43.80" cy="580.18" r="2.9"/><circle cx="43.58" cy="580.87" r="2.9"/><circle cx="43.41" cy="581.43" r="2.9"/><circle cx="43.26" cy="581.90" r="2.9"/><circle cx="43.14" cy="582.29" r="2.9"/><circle cx="43.04" cy="582.62" r="2.9"/><circle cx="42.90" cy="583.90" r="2.9"/></g>
<path d="M139.20 338.50L120.34 378.40L104.71 412.78L93.22 441.76L83.84 466.04L76.58 486.76L70.23 502.98L65.49 517.78L60.85 529.00L58.13 538.28L55.61 545.94L52.89 552.67L51.03 558.04L49.52 562.49L48.27 566.18L47.25 569.25L46.41 571.79L45.73 573.91L45.16 575.66L44.70 577.11L44.32 578.32L44.01 579.32L43.76 580.15L43.55 580.84L43.38 581.41L43.24 581.89L43.12 582.28L43.03 582.61L42.90 583.90" stroke="#000" stroke-width="1.0" fill="none" shape-rendering="crispEdges"/>
<g fill="#800080"><circle cx="139.20" cy="338.50" r="2.9"/><circle cx="120.34" cy="378.40" r="2.9"/><circle cx="104.71" cy="412.78" r="2.9"/><circle cx="93.22" cy="441.76" r="2.9"/><circle cx="83.84" cy="466.04" r="2.9"/><circle cx="76.58" cy="486.76" r="2.9"/><circle cx="70.23" cy="502.98" r="2.9"/><circle cx="65.49" cy="517.78" r="2.9"/><circle cx="60.85" cy="529.00" r="2.9"/><circle cx="58.13" cy="538.28" r="2.9"/><circle cx="55.61" cy="545.94" r="2.9"/><circle cx="52.89" cy="552.67" r="2.9"/><circle cx="51.03" cy="558.04" r="2.9"/><circle cx="49.52" cy="562.49" r="2.9"/><circle cx="48.27" cy="566.18" r="2.9"/><circle cx="47.25" cy="569.25" r="2.9"/><circle cx="46.41" cy="571.79" r="2.9"/><circle cx="45.73" cy="573.91" r="2.9"/><circle cx="45.16" cy="575.66" r="2.9"/><circle cx="44.70" cy="577.11" r="2.9"/><circle cx="44.32" cy="578.32" r="2.9"/><circle cx="44.01" cy="579.32" r="2.9"/><circle cx="43.76" cy="580.15" r="2.9"/><circle cx="43.55" cy="580.84" r="2.9"/><circle cx="43.38" cy="581.41" r="2.9"/><circle cx="43.24" cy="581.89" r="2.9"/><circle cx="43.12" cy="582.28" r="2.9"/><circle cx="43.03" cy="582.61" r="2.9"/><circle cx="42.90" cy="583.90" r="2.9"/></g>
<path d="M138.40 343.40L119.70 382.50L104.20 416.20L92.80 444.60L83.50 468.40L76.30 488.70L70.00 504.60L65.30 519.10L60.70 530.10L58.00 539.20L55.50 546.70L52.80 553.30L50.96 558.56L49.46 562.92L48.22 566.54L47.21 569.55L46.38 572.04L45.70 574.11L45.14 575.83L44.69 577.25L44.31 578.43L44.00 579.42L43.75 580.23L43.54 580.91L43.37 581.47L43.23 581.93L43.12 582.32L43.03 582.64L42.90 583.90" stroke="#000" stroke-width="1.0" fill="none" shape-rendering="crispEdges"/>
<g fill="#808000"><circle cx="138.40" cy="343.40" r="2.9"/><circle cx="119.70" cy="382.50" r="2.9"/><circle cx="104.20" cy="416.20" r="2.9"/><circle cx="92.80" cy="444.60" r="2.9"/><circle cx="83.50" cy="468.40" r="2.9"/><circle cx="76.30" cy="488.70" r="2.9"/><circle cx="70.00" cy="504.60" r="2.9"/><circle cx="65.30" cy="519.10" r="2.9"/><circle cx="60.70" cy="530.10" r="2.9"/><circle cx="58.00" cy="539.20" r="2.9"/><circle cx="55.50" cy="546.70" r="2.9"/><circle cx="52.80" cy="553.30" r="2.9"/><circle cx="50.96" cy="558.56" r="2.9"/><circle cx="49.46" cy="562.92" r="2.9"/><circle cx="48.22" cy="566.54" r="2.9"/><circle cx="47.21" cy="569.55" r="2.9"/><circle cx="46.38" cy="572.04" r="2.9"/><circle cx="45.70" cy="574.11" r="2.9"/><circle cx="45.14" cy="575.83" r="2.9"/><circle cx="44.69" cy="577.25" r="2.9"/><circle cx="44.31" cy="578.43" r="2.9"/><circle cx="44.00" cy="579.42" r="2.9"/><circle cx="43.75" cy="580.23" r="2.9"/><circle cx="43.54" cy="580.91" r="2.9"/><circle cx="43.37" cy="581.47" r="2.9"/><circle cx="43.23" cy="581.93" r="2.9"/><circle cx="43.12" cy="582.32" r="2.9"/><circle cx="43.03" cy="582.64" r="2.9"/><circle cx="42.90" cy="583.90" r="2.9"/></g>
<rect x="40.10" y="580.70" width="5.5" height="5" fill="#ffff00"/>
</g>
<rect x="237.40" y="415.80" width="90.00" height="165.40" fill="#fff" stroke="#222" stroke-width="1.3"/>
<path d="M246.20 428.50h19.70" stroke="#111" stroke-width="1"/><circle cx="256.05" cy="428.70" r="2.8" fill="#000000"/><path d="M246.20 441.50h19.70" stroke="#111" stroke-width="1"/><circle cx="256.05" cy="441.30" r="2.8" fill="#ff0000"/><path d="M246.20 453.50h19.70" stroke="#111" stroke-width="1"/><circle cx="256.05" cy="453.90" r="2.8" fill="#00ff00"/><path d="M246.20 466.50h19.70" stroke="#111" stroke-width="1"/><circle cx="256.05" cy="466.50" r="2.8" fill="#0000ff"/><path d="M246.20 479.50h19.70" stroke="#111" stroke-width="1"/><circle cx="256.05" cy="479.10" r="2.8" fill="#ff00ff"/><path d="M246.20 491.50h19.70" stroke="#111" stroke-width="1"/><circle cx="256.05" cy="491.70" r="2.8" fill="#00ffff"/><path d="M246.20 504.50h19.70" stroke="#111" stroke-width="1"/><circle cx="256.05" cy="504.30" r="2.8" fill="#c0c0c0"/><path d="M246.20 516.50h19.70" stroke="#111" stroke-width="1"/><circle cx="256.05" cy="516.90" r="2.8" fill="#800000"/><path d="M246.20 529.50h19.70" stroke="#111" stroke-width="1"/><circle cx="256.05" cy="529.50" r="2.8" fill="#008000"/><path d="M246.20 542.50h19.70" stroke="#111" stroke-width="1"/><circle cx="256.05" cy="542.10" r="2.8" fill="#800080"/><path d="M246.20 554.50h19.70" stroke="#111" stroke-width="1"/><circle cx="256.05" cy="554.70" r="2.8" fill="#808000"/><path d="M246.20 567.50h19.70" stroke="#111" stroke-width="1"/><circle cx="256.05" cy="567.30" r="2.8" fill="#ffff00"/>
<g font-family="Liberation Sans, sans-serif" font-weight="bold" font-size="9.0" letter-spacing="0.68" fill="#1c1c1c"><text transform="translate(270.70,431.90) scale(0.9,1.13)">0 minutes</text><text transform="translate(270.70,444.50) scale(0.9,1.13)">5 minutes</text><text transform="translate(270.70,457.10) scale(0.9,1.13)">10 minutes</text><text transform="translate(270.70,469.70) scale(0.9,1.13)">20 minutes</text><text transform="translate(270.70,482.30) scale(0.9,1.13)">25 minutes</text><text transform="translate(270.70,494.90) scale(0.9,1.13)">30 minutes</text><text transform="translate(270.70,507.50) scale(0.9,1.13)">35 minutes</text><text transform="translate(270.70,520.10) scale(0.9,1.13)">40 minutes</text><text transform="translate(270.70,532.70) scale(0.9,1.13)">45 minutes</text><text transform="translate(270.70,545.30) scale(0.9,1.13)">50 minutes</text><text transform="translate(270.70,557.90) scale(0.9,1.13)">60 minutes</text><text transform="translate(270.70,570.50) scale(0.9,1.13)">15 minutes</text></g>
<text transform="translate(12.40,453.00) rotate(-90) scale(0.93,1.05)" text-anchor="middle" font-family="Liberation Sans, sans-serif" font-weight="bold" font-size="12.25" fill="#1c1c1c">-Z<tspan font-size="6.74" dy="3.67">im</tspan><tspan dy="-3.67">/Ohm.cm</tspan><tspan font-size="6.74" dy="-5.51">2</tspan></text>
<text transform="translate(186.60,610.60) scale(0.93,1.05)" text-anchor="middle" font-family="Liberation Sans, sans-serif" font-weight="bold" font-size="12.0" fill="#1c1c1c">Z<tspan font-size="6.60" dy="3.60">re</tspan><tspan dy="-3.60">/Ohm.cm</tspan><tspan font-size="6.60" dy="-5.40">2</tspan></text>
<text x="304.00" y="353.40" font-family="Liberation Serif, serif" font-weight="bold" font-size="17.5" fill="#1c1c1c">b</text>
<text x="75.80" y="575.00" font-family="Liberation Sans, sans-serif" font-weight="bold" font-size="11.0" letter-spacing="0.3" fill="#1c1c1c">0.01 M</text>
<rect x="384.40" y="319.00" width="290.60" height="263.40" fill="none" stroke="#2a2a2a" stroke-width="1.5"/>
<path d="M395.16 582.40V580.20M405.93 582.40V580.20M416.69 582.40V578.80M427.45 582.40V580.20M438.21 582.40V580.20M448.98 582.40V578.80M459.74 582.40V580.20M470.50 582.40V580.20M481.27 582.40V578.80M492.03 582.40V580.20M502.79 582.40V580.20M513.56 582.40V578.80M524.32 582.40V580.20M535.08 582.40V580.20M545.84 582.40V578.80M556.61 582.40V580.20M567.37 582.40V580.20M578.13 582.40V578.80M588.90 582.40V580.20M599.66 582.40V580.20M610.42 582.40V578.80M621.19 582.40V580.20M631.95 582.40V580.20M642.71 582.40V578.80M653.47 582.40V580.20M664.24 582.40V580.20M384.40 572.64H386.60M384.40 562.89H386.60M384.40 553.13H388.00M384.40 543.38H386.60M384.40 533.62H386.60M384.40 523.87H388.00M384.40 514.11H386.60M384.40 504.36H386.60M384.40 494.60H388.00M384.40 484.84H386.60M384.40 475.09H386.60M384.40 465.33H388.00M384.40 455.58H386.60M384.40 445.82H386.60M384.40 436.07H388.00M384.40 426.31H386.60M384.40 416.56H386.60M384.40 406.80H388.00M384.40 397.04H386.60M384.40 387.29H386.60M384.40 377.53H388.00M384.40 367.78H386.60M384.40 358.02H386.60M384.40 348.27H388.00M384.40 338.51H386.60M384.40 328.76H386.60" stroke="#111" stroke-width="1.1" fill="none"/>
<g font-family="Liberation Sans, sans-serif" font-weight="bold" font-size="9.3" letter-spacing="0.0" fill="#1c1c1c"><text transform="translate(384.40,594.90) scale(1.0,1.05)" text-anchor="middle">0</text><text transform="translate(416.69,594.90) scale(1.0,1.05)" text-anchor="middle">200</text><text transform="translate(448.98,594.90) scale(1.0,1.05)" text-anchor="middle">400</text><text transform="translate(481.27,594.90) scale(1.0,1.05)" text-anchor="middle">600</text><text transform="translate(513.56,594.90) scale(1.0,1.05)" text-anchor="middle">800</text><text transform="translate(545.84,594.90) scale(1.0,1.05)" text-anchor="middle">1000</text><text transform="translate(578.13,594.90) scale(1.0,1.05)" text-anchor="middle">1200</text><text transform="translate(610.42,594.90) scale(1.0,1.05)" text-anchor="middle">1400</text><text transform="translate(642.71,594.90) scale(1.0,1.05)" text-anchor="middle">1600</text><text transform="translate(675.00,594.90) scale(1.0,1.05)" text-anchor="middle">1800</text><text transform="translate(378.80,585.80) scale(1.0,1.05)" text-anchor="end">0</text><text transform="translate(378.80,556.53) scale(1.0,1.05)" text-anchor="end">200</text><text transform="translate(378.80,527.27) scale(1.0,1.05)" text-anchor="end">400</text><text transform="translate(378.80,498.00) scale(1.0,1.05)" text-anchor="end">600</text><text transform="translate(378.80,468.73) scale(1.0,1.05)" text-anchor="end">800</text><text transform="translate(378.80,439.47) scale(1.0,1.05)" text-anchor="end">1000</text><text transform="translate(378.80,410.20) scale(1.0,1.05)" text-anchor="end">1200</text><text transform="translate(378.80,380.93) scale(1.0,1.05)" text-anchor="end">1400</text><text transform="translate(378.80,351.67) scale(1.0,1.05)" text-anchor="end">1600</text><text transform="translate(378.80,322.40) scale(1.0,1.05)" text-anchor="end">1800</text></g>
<clipPath id="cpc"><rect x="380.40" y="315.00" width="298.60" height="271.40"/></clipPath>
<g clip-path="url(#cpc)">
<path d="M482.20 386.50L459.71 418.40L442.39 445.10L429.05 467.46L418.56 486.60L410.53 502.55L404.39 515.85L399.69 526.93L396.10 536.17L393.35 543.87L391.25 550.29L389.64 555.63L388.41 560.09L387.46 563.81L386.74 566.90L386.19 569.48L385.77 571.63L385.45 573.43L385.20 574.92L385.01 576.17L384.87 577.20L384.70 582.10" stroke="#000" stroke-width="1.0" fill="none" shape-rendering="crispEdges"/>
<g fill="#000000"><circle cx="482.20" cy="386.50" r="2.9"/><circle cx="459.71" cy="418.40" r="2.9"/><circle cx="442.39" cy="445.10" r="2.9"/><circle cx="429.05" cy="467.46" r="2.9"/><circle cx="418.56" cy="486.60" r="2.9"/><circle cx="410.53" cy="502.55" r="2.9"/><circle cx="404.39" cy="515.85" r="2.9"/><circle cx="399.69" cy="526.93" r="2.9"/><circle cx="396.10" cy="536.17" r="2.9"/><circle cx="393.35" cy="543.87" r="2.9"/><circle cx="391.25" cy="550.29" r="2.9"/><circle cx="389.64" cy="555.63" r="2.9"/><circle cx="388.41" cy="560.09" r="2.9"/><circle cx="387.46" cy="563.81" r="2.9"/><circle cx="386.74" cy="566.90" r="2.9"/><circle cx="386.19" cy="569.48" r="2.9"/><circle cx="385.77" cy="571.63" r="2.9"/><circle cx="385.45" cy="573.43" r="2.9"/><circle cx="385.20" cy="574.92" r="2.9"/><circle cx="385.01" cy="576.17" r="2.9"/><circle cx="384.87" cy="577.20" r="2.9"/><circle cx="384.70" cy="582.10" r="2.9"/></g>
<path d="M472.40 374.60L452.16 409.34L436.58 438.28L424.57 462.37L415.74 482.24L408.84 498.85L403.47 512.71L399.27 524.27L396.00 533.91L393.45 541.96L391.46 548.67L389.90 554.26L388.69 558.93L387.75 562.82L387.01 566.07L386.44 568.78L385.99 571.04L385.64 572.92L385.37 574.50L385.15 575.81L384.99 576.90L384.86 577.81L384.70 582.10" stroke="#000" stroke-width="1.0" fill="none" shape-rendering="crispEdges"/>
<g fill="#ff0000"><circle cx="472.40" cy="374.60" r="2.9"/><circle cx="452.16" cy="409.34" r="2.9"/><circle cx="436.58" cy="438.28" r="2.9"/><circle cx="424.57" cy="462.37" r="2.9"/><circle cx="415.74" cy="482.24" r="2.9"/><circle cx="408.84" cy="498.85" r="2.9"/><circle cx="403.47" cy="512.71" r="2.9"/><circle cx="399.27" cy="524.27" r="2.9"/><circle cx="396.00" cy="533.91" r="2.9"/><circle cx="393.45" cy="541.96" r="2.9"/><circle cx="391.46" cy="548.67" r="2.9"/><circle cx="389.90" cy="554.26" r="2.9"/><circle cx="388.69" cy="558.93" r="2.9"/><circle cx="387.75" cy="562.82" r="2.9"/><circle cx="387.01" cy="566.07" r="2.9"/><circle cx="386.44" cy="568.78" r="2.9"/><circle cx="385.99" cy="571.04" r="2.9"/><circle cx="385.64" cy="572.92" r="2.9"/><circle cx="385.37" cy="574.50" r="2.9"/><circle cx="385.15" cy="575.81" r="2.9"/><circle cx="384.99" cy="576.90" r="2.9"/><circle cx="384.86" cy="577.81" r="2.9"/><circle cx="384.70" cy="582.10" r="2.9"/></g>
<path d="M466.20 364.70L447.39 402.04L432.90 432.98L421.74 458.61L414.28 478.30L408.30 494.93L403.52 508.90L399.70 520.64L396.64 530.51L394.19 538.80L392.23 545.76L390.67 551.62L389.41 556.53L388.41 560.67L387.61 564.14L386.97 567.05L386.45 569.51L386.04 571.57L385.71 573.30L385.45 574.75L385.24 575.97L385.07 577.00L384.94 577.86L384.83 578.59L384.70 582.10" stroke="#000" stroke-width="1.0" fill="none" shape-rendering="crispEdges"/>
<g fill="#00ff00"><circle cx="466.20" cy="364.70" r="2.9"/><circle cx="447.39" cy="402.04" r="2.9"/><circle cx="432.90" cy="432.98" r="2.9"/><circle cx="421.74" cy="458.61" r="2.9"/><circle cx="414.28" cy="478.30" r="2.9"/><circle cx="408.30" cy="494.93" r="2.9"/><circle cx="403.52" cy="508.90" r="2.9"/><circle cx="399.70" cy="520.64" r="2.9"/><circle cx="396.64" cy="530.51" r="2.9"/><circle cx="394.19" cy="538.80" r="2.9"/><circle cx="392.23" cy="545.76" r="2.9"/><circle cx="390.67" cy="551.62" r="2.9"/><circle cx="389.41" cy="556.53" r="2.9"/><circle cx="388.41" cy="560.67" r="2.9"/><circle cx="387.61" cy="564.14" r="2.9"/><circle cx="386.97" cy="567.05" r="2.9"/><circle cx="386.45" cy="569.51" r="2.9"/><circle cx="386.04" cy="571.57" r="2.9"/><circle cx="385.71" cy="573.30" r="2.9"/><circle cx="385.45" cy="574.75" r="2.9"/><circle cx="385.24" cy="575.97" r="2.9"/><circle cx="385.07" cy="577.00" r="2.9"/><circle cx="384.94" cy="577.86" r="2.9"/><circle cx="384.83" cy="578.59" r="2.9"/><circle cx="384.70" cy="582.10" r="2.9"/></g>
<path d="M462.40 358.60L444.46 397.47L430.65 429.60L420.01 456.14L412.89 476.78L407.19 494.15L402.63 508.66L398.99 520.78L396.07 530.91L393.73 539.38L391.87 546.45L390.37 552.36L389.18 557.30L388.22 561.43L387.46 564.88L386.85 567.76L386.36 570.17L385.97 572.18L385.65 573.86L385.40 575.26L385.20 576.44L385.04 577.42L384.91 578.24L384.81 578.92L384.70 582.10" stroke="#000" stroke-width="1.0" fill="none" shape-rendering="crispEdges"/>
<g fill="#ffff00"><circle cx="462.40" cy="358.60" r="2.9"/><circle cx="444.46" cy="397.47" r="2.9"/><circle cx="430.65" cy="429.60" r="2.9"/><circle cx="420.01" cy="456.14" r="2.9"/><circle cx="412.89" cy="476.78" r="2.9"/><circle cx="407.19" cy="494.15" r="2.9"/><circle cx="402.63" cy="508.66" r="2.9"/><circle cx="398.99" cy="520.78" r="2.9"/><circle cx="396.07" cy="530.91" r="2.9"/><circle cx="393.73" cy="539.38" r="2.9"/><circle cx="391.87" cy="546.45" r="2.9"/><circle cx="390.37" cy="552.36" r="2.9"/><circle cx="389.18" cy="557.30" r="2.9"/><circle cx="388.22" cy="561.43" r="2.9"/><circle cx="387.46" cy="564.88" r="2.9"/><circle cx="386.85" cy="567.76" r="2.9"/><circle cx="386.36" cy="570.17" r="2.9"/><circle cx="385.97" cy="572.18" r="2.9"/><circle cx="385.65" cy="573.86" r="2.9"/><circle cx="385.40" cy="575.26" r="2.9"/><circle cx="385.20" cy="576.44" r="2.9"/><circle cx="385.04" cy="577.42" r="2.9"/><circle cx="384.91" cy="578.24" r="2.9"/><circle cx="384.81" cy="578.92" r="2.9"/><circle cx="384.70" cy="582.10" r="2.9"/></g>
<path d="M459.30 353.70L442.07 393.92L428.81 427.06L418.59 454.38L411.76 475.89L406.28 493.89L401.91 508.86L398.41 521.29L395.60 531.62L393.36 540.21L391.57 547.34L390.14 553.27L388.99 558.19L388.07 562.29L387.34 565.69L386.75 568.51L386.28 570.86L385.90 572.81L385.60 574.43L385.36 575.78L385.17 576.90L385.02 577.83L384.89 578.60L384.70 582.10" stroke="#000" stroke-width="1.0" fill="none" shape-rendering="crispEdges"/>
<g fill="#0000ff"><circle cx="459.30" cy="353.70" r="2.9"/><circle cx="442.07" cy="393.92" r="2.9"/><circle cx="428.81" cy="427.06" r="2.9"/><circle cx="418.59" cy="454.38" r="2.9"/><circle cx="411.76" cy="475.89" r="2.9"/><circle cx="406.28" cy="493.89" r="2.9"/><circle cx="401.91" cy="508.86" r="2.9"/><circle cx="398.41" cy="521.29" r="2.9"/><circle cx="395.60" cy="531.62" r="2.9"/><circle cx="393.36" cy="540.21" r="2.9"/><circle cx="391.57" cy="547.34" r="2.9"/><circle cx="390.14" cy="553.27" r="2.9"/><circle cx="388.99" cy="558.19" r="2.9"/><circle cx="388.07" cy="562.29" r="2.9"/><circle cx="387.34" cy="565.69" r="2.9"/><circle cx="386.75" cy="568.51" r="2.9"/><circle cx="386.28" cy="570.86" r="2.9"/><circle cx="385.90" cy="572.81" r="2.9"/><circle cx="385.60" cy="574.43" r="2.9"/><circle cx="385.36" cy="575.78" r="2.9"/><circle cx="385.17" cy="576.90" r="2.9"/><circle cx="385.02" cy="577.83" r="2.9"/><circle cx="384.89" cy="578.60" r="2.9"/><circle cx="384.70" cy="582.10" r="2.9"/></g>
<path d="M457.80 352.80L440.92 393.42L427.92 426.86L417.91 454.38L411.21 476.17L405.85 494.38L401.56 509.46L398.13 521.96L395.38 532.32L393.18 540.90L391.43 548.02L390.02 553.91L388.90 558.79L388.00 562.84L387.28 566.19L386.70 568.97L386.24 571.27L385.87 573.18L385.58 574.76L385.34 576.07L385.15 577.15L385.00 578.05L384.88 578.80L384.70 582.10" stroke="#000" stroke-width="1.0" fill="none" shape-rendering="crispEdges"/>
<g fill="#ff00ff"><circle cx="457.80" cy="352.80" r="2.9"/><circle cx="440.92" cy="393.42" r="2.9"/><circle cx="427.92" cy="426.86" r="2.9"/><circle cx="417.91" cy="454.38" r="2.9"/><circle cx="411.21" cy="476.17" r="2.9"/><circle cx="405.85" cy="494.38" r="2.9"/><circle cx="401.56" cy="509.46" r="2.9"/><circle cx="398.13" cy="521.96" r="2.9"/><circle cx="395.38" cy="532.32" r="2.9"/><circle cx="393.18" cy="540.90" r="2.9"/><circle cx="391.43" cy="548.02" r="2.9"/><circle cx="390.02" cy="553.91" r="2.9"/><circle cx="388.90" cy="558.79" r="2.9"/><circle cx="388.00" cy="562.84" r="2.9"/><circle cx="387.28" cy="566.19" r="2.9"/><circle cx="386.70" cy="568.97" r="2.9"/><circle cx="386.24" cy="571.27" r="2.9"/><circle cx="385.87" cy="573.18" r="2.9"/><circle cx="385.58" cy="574.76" r="2.9"/><circle cx="385.34" cy="576.07" r="2.9"/><circle cx="385.15" cy="577.15" r="2.9"/><circle cx="385.00" cy="578.05" r="2.9"/><circle cx="384.88" cy="578.80" r="2.9"/><circle cx="384.70" cy="582.10" r="2.9"/></g>
<path d="M456.70 348.70L440.07 390.30L427.27 424.50L417.41 452.60L410.81 474.99L405.52 493.64L401.30 509.06L397.92 521.80L395.22 532.32L393.05 541.02L391.32 548.21L389.94 554.15L388.83 559.05L387.94 563.11L387.24 566.46L386.67 569.23L386.21 571.52L385.85 573.41L385.56 574.97L385.33 576.26L385.14 577.33L384.99 578.21L384.88 578.94L384.70 582.10" stroke="#000" stroke-width="1.0" fill="none" shape-rendering="crispEdges"/>
<g fill="#00ffff"><circle cx="456.70" cy="348.70" r="2.9"/><circle cx="440.07" cy="390.30" r="2.9"/><circle cx="427.27" cy="424.50" r="2.9"/><circle cx="417.41" cy="452.60" r="2.9"/><circle cx="410.81" cy="474.99" r="2.9"/><circle cx="405.52" cy="493.64" r="2.9"/><circle cx="401.30" cy="509.06" r="2.9"/><circle cx="397.92" cy="521.80" r="2.9"/><circle cx="395.22" cy="532.32" r="2.9"/><circle cx="393.05" cy="541.02" r="2.9"/><circle cx="391.32" cy="548.21" r="2.9"/><circle cx="389.94" cy="554.15" r="2.9"/><circle cx="388.83" cy="559.05" r="2.9"/><circle cx="387.94" cy="563.11" r="2.9"/><circle cx="387.24" cy="566.46" r="2.9"/><circle cx="386.67" cy="569.23" r="2.9"/><circle cx="386.21" cy="571.52" r="2.9"/><circle cx="385.85" cy="573.41" r="2.9"/><circle cx="385.56" cy="574.97" r="2.9"/><circle cx="385.33" cy="576.26" r="2.9"/><circle cx="385.14" cy="577.33" r="2.9"/><circle cx="384.99" cy="578.21" r="2.9"/><circle cx="384.88" cy="578.94" r="2.9"/><circle cx="384.70" cy="582.10" r="2.9"/></g>
<path d="M455.50 345.50L439.15 388.18L426.56 423.17L416.86 451.85L410.37 474.94L405.17 494.10L401.02 509.84L397.70 522.78L395.04 533.41L392.91 542.14L391.21 549.32L389.85 555.22L388.76 560.06L387.89 564.05L387.19 567.32L386.63 570.01L386.18 572.22L385.83 574.03L385.54 575.52L385.31 576.75L385.13 577.76L384.98 578.59L384.87 579.27L384.70 582.10" stroke="#000" stroke-width="1.0" fill="none" shape-rendering="crispEdges"/>
<g fill="#c0c0c0"><circle cx="455.50" cy="345.50" r="2.9"/><circle cx="439.15" cy="388.18" r="2.9"/><circle cx="426.56" cy="423.17" r="2.9"/><circle cx="416.86" cy="451.85" r="2.9"/><circle cx="410.37" cy="474.94" r="2.9"/><circle cx="405.17" cy="494.10" r="2.9"/><circle cx="401.02" cy="509.84" r="2.9"/><circle cx="397.70" cy="522.78" r="2.9"/><circle cx="395.04" cy="533.41" r="2.9"/><circle cx="392.91" cy="542.14" r="2.9"/><circle cx="391.21" cy="549.32" r="2.9"/><circle cx="389.85" cy="555.22" r="2.9"/><circle cx="388.76" cy="560.06" r="2.9"/><circle cx="387.89" cy="564.05" r="2.9"/><circle cx="387.19" cy="567.32" r="2.9"/><circle cx="386.63" cy="570.01" r="2.9"/><circle cx="386.18" cy="572.22" r="2.9"/><circle cx="385.83" cy="574.03" r="2.9"/><circle cx="385.54" cy="575.52" r="2.9"/><circle cx="385.31" cy="576.75" r="2.9"/><circle cx="385.13" cy="577.76" r="2.9"/><circle cx="384.98" cy="578.59" r="2.9"/><circle cx="384.87" cy="579.27" r="2.9"/><circle cx="384.70" cy="582.10" r="2.9"/></g>
<path d="M454.40 342.60L438.30 386.06L425.90 421.64L416.36 450.77L409.97 474.34L404.85 493.86L400.76 509.85L397.49 522.95L394.87 533.68L392.78 542.48L391.10 549.69L389.76 555.60L388.69 560.44L387.83 564.40L387.15 567.65L386.60 570.32L386.16 572.50L385.81 574.29L385.52 575.75L385.30 576.95L385.12 577.94L384.98 578.74L384.86 579.40L384.70 582.10" stroke="#000" stroke-width="1.0" fill="none" shape-rendering="crispEdges"/>
<g fill="#800000"><circle cx="454.40" cy="342.60" r="2.9"/><circle cx="438.30" cy="386.06" r="2.9"/><circle cx="425.90" cy="421.64" r="2.9"/><circle cx="416.36" cy="450.77" r="2.9"/><circle cx="409.97" cy="474.34" r="2.9"/><circle cx="404.85" cy="493.86" r="2.9"/><circle cx="400.76" cy="509.85" r="2.9"/><circle cx="397.49" cy="522.95" r="2.9"/><circle cx="394.87" cy="533.68" r="2.9"/><circle cx="392.78" cy="542.48" r="2.9"/><circle cx="391.10" cy="549.69" r="2.9"/><circle cx="389.76" cy="555.60" r="2.9"/><circle cx="388.69" cy="560.44" r="2.9"/><circle cx="387.83" cy="564.40" r="2.9"/><circle cx="387.15" cy="567.65" r="2.9"/><circle cx="386.60" cy="570.32" r="2.9"/><circle cx="386.16" cy="572.50" r="2.9"/><circle cx="385.81" cy="574.29" r="2.9"/><circle cx="385.52" cy="575.75" r="2.9"/><circle cx="385.30" cy="576.95" r="2.9"/><circle cx="385.12" cy="577.94" r="2.9"/><circle cx="384.98" cy="578.74" r="2.9"/><circle cx="384.86" cy="579.40" r="2.9"/><circle cx="384.70" cy="582.10" r="2.9"/></g>
<path d="M452.90 341.80L437.14 385.66L425.01 421.52L415.67 450.85L409.42 474.70L404.41 494.39L400.41 510.48L397.21 523.63L394.65 534.38L392.60 543.16L390.96 550.34L389.65 556.20L388.60 560.99L387.76 564.91L387.09 568.10L386.55 570.72L386.12 572.85L385.78 574.60L385.50 576.03L385.28 577.19L385.10 578.14L384.96 578.92L384.85 579.56L384.70 582.10" stroke="#000" stroke-width="1.0" fill="none" shape-rendering="crispEdges"/>
<g fill="#008000"><circle cx="452.90" cy="341.80" r="2.9"/><circle cx="437.14" cy="385.66" r="2.9"/><circle cx="425.01" cy="421.52" r="2.9"/><circle cx="415.67" cy="450.85" r="2.9"/><circle cx="409.42" cy="474.70" r="2.9"/><circle cx="404.41" cy="494.39" r="2.9"/><circle cx="400.41" cy="510.48" r="2.9"/><circle cx="397.21" cy="523.63" r="2.9"/><circle cx="394.65" cy="534.38" r="2.9"/><circle cx="392.60" cy="543.16" r="2.9"/><circle cx="390.96" cy="550.34" r="2.9"/><circle cx="389.65" cy="556.20" r="2.9"/><circle cx="388.60" cy="560.99" r="2.9"/><circle cx="387.76" cy="564.91" r="2.9"/><circle cx="387.09" cy="568.10" r="2.9"/><circle cx="386.55" cy="570.72" r="2.9"/><circle cx="386.12" cy="572.85" r="2.9"/><circle cx="385.78" cy="574.60" r="2.9"/><circle cx="385.50" cy="576.03" r="2.9"/><circle cx="385.28" cy="577.19" r="2.9"/><circle cx="385.10" cy="578.14" r="2.9"/><circle cx="384.96" cy="578.92" r="2.9"/><circle cx="384.85" cy="579.56" r="2.9"/><circle cx="384.70" cy="582.10" r="2.9"/></g>
<path d="M456.70 339.80L440.07 384.02L427.27 420.19L417.41 449.76L410.81 473.80L405.52 493.66L401.30 509.89L397.92 523.15L395.22 533.98L393.05 542.84L391.32 550.07L389.94 555.98L388.83 560.81L387.94 564.76L387.24 567.99L386.67 570.62L386.21 572.78L385.85 574.54L385.56 575.97L385.33 577.15L385.14 578.11L384.99 578.89L384.88 579.53L384.70 582.10" stroke="#000" stroke-width="1.0" fill="none" shape-rendering="crispEdges"/>
<g fill="#800080"><circle cx="456.70" cy="339.80" r="2.9"/><circle cx="440.07" cy="384.02" r="2.9"/><circle cx="427.27" cy="420.19" r="2.9"/><circle cx="417.41" cy="449.76" r="2.9"/><circle cx="410.81" cy="473.80" r="2.9"/><circle cx="405.52" cy="493.66" r="2.9"/><circle cx="401.30" cy="509.89" r="2.9"/><circle cx="397.92" cy="523.15" r="2.9"/><circle cx="395.22" cy="533.98" r="2.9"/><circle cx="393.05" cy="542.84" r="2.9"/><circle cx="391.32" cy="550.07" r="2.9"/><circle cx="389.94" cy="555.98" r="2.9"/><circle cx="388.83" cy="560.81" r="2.9"/><circle cx="387.94" cy="564.76" r="2.9"/><circle cx="387.24" cy="567.99" r="2.9"/><circle cx="386.67" cy="570.62" r="2.9"/><circle cx="386.21" cy="572.78" r="2.9"/><circle cx="385.85" cy="574.54" r="2.9"/><circle cx="385.56" cy="575.97" r="2.9"/><circle cx="385.33" cy="577.15" r="2.9"/><circle cx="385.14" cy="578.11" r="2.9"/><circle cx="384.99" cy="578.89" r="2.9"/><circle cx="384.88" cy="579.53" r="2.9"/><circle cx="384.70" cy="582.10" r="2.9"/></g>
<path d="M451.70 337.50L436.22 382.41L424.30 419.08L415.12 449.02L408.98 473.49L404.06 493.66L400.13 510.09L396.98 523.47L394.47 534.38L392.45 543.27L390.84 550.52L389.55 556.42L388.52 561.23L387.70 565.15L387.04 568.34L386.51 570.95L386.09 573.07L385.75 574.79L385.48 576.20L385.26 577.35L385.09 578.28L384.95 579.05L384.84 579.67L384.70 582.10" stroke="#000" stroke-width="1.0" fill="none" shape-rendering="crispEdges"/>
<g fill="#808000"><circle cx="451.70" cy="337.50" r="2.9"/><circle cx="436.22" cy="382.41" r="2.9"/><circle cx="424.30" cy="419.08" r="2.9"/><circle cx="415.12" cy="449.02" r="2.9"/><circle cx="408.98" cy="473.49" r="2.9"/><circle cx="404.06" cy="493.66" r="2.9"/><circle cx="400.13" cy="510.09" r="2.9"/><circle cx="396.98" cy="523.47" r="2.9"/><circle cx="394.47" cy="534.38" r="2.9"/><circle cx="392.45" cy="543.27" r="2.9"/><circle cx="390.84" cy="550.52" r="2.9"/><circle cx="389.55" cy="556.42" r="2.9"/><circle cx="388.52" cy="561.23" r="2.9"/><circle cx="387.70" cy="565.15" r="2.9"/><circle cx="387.04" cy="568.34" r="2.9"/><circle cx="386.51" cy="570.95" r="2.9"/><circle cx="386.09" cy="573.07" r="2.9"/><circle cx="385.75" cy="574.79" r="2.9"/><circle cx="385.48" cy="576.20" r="2.9"/><circle cx="385.26" cy="577.35" r="2.9"/><circle cx="385.09" cy="578.28" r="2.9"/><circle cx="384.95" cy="579.05" r="2.9"/><circle cx="384.84" cy="579.67" r="2.9"/><circle cx="384.70" cy="582.10" r="2.9"/></g>
</g>
<rect x="592.20" y="400.50" width="70.30" height="165.50" fill="#fff" stroke="#222" stroke-width="1.3"/>
<path d="M600.10 414.50h20.10" stroke="#111" stroke-width="1"/><circle cx="610.15" cy="414.00" r="2.8" fill="#000000"/><path d="M600.10 426.50h20.10" stroke="#111" stroke-width="1"/><circle cx="610.15" cy="426.50" r="2.8" fill="#ff0000"/><path d="M600.10 439.50h20.10" stroke="#111" stroke-width="1"/><circle cx="610.15" cy="439.00" r="2.8" fill="#00ff00"/><path d="M600.10 451.50h20.10" stroke="#111" stroke-width="1"/><circle cx="610.15" cy="451.50" r="2.8" fill="#ffff00"/><path d="M600.10 464.50h20.10" stroke="#111" stroke-width="1"/><circle cx="610.15" cy="464.00" r="2.8" fill="#0000ff"/><path d="M600.10 476.50h20.10" stroke="#111" stroke-width="1"/><circle cx="610.15" cy="476.50" r="2.8" fill="#ff00ff"/><path d="M600.10 489.50h20.10" stroke="#111" stroke-width="1"/><circle cx="610.15" cy="489.00" r="2.8" fill="#00ffff"/><path d="M600.10 501.50h20.10" stroke="#111" stroke-width="1"/><circle cx="610.15" cy="501.50" r="2.8" fill="#c0c0c0"/><path d="M600.10 514.50h20.10" stroke="#111" stroke-width="1"/><circle cx="610.15" cy="514.00" r="2.8" fill="#800000"/><path d="M600.10 526.50h20.10" stroke="#111" stroke-width="1"/><circle cx="610.15" cy="526.50" r="2.8" fill="#008000"/><path d="M600.10 539.50h20.10" stroke="#111" stroke-width="1"/><circle cx="610.15" cy="539.00" r="2.8" fill="#800080"/><path d="M600.10 551.50h20.10" stroke="#111" stroke-width="1"/><circle cx="610.15" cy="551.50" r="2.8" fill="#808000"/>
<g font-family="Liberation Sans, sans-serif" font-weight="bold" font-size="9.0" letter-spacing="0.7" fill="#1c1c1c"><text transform="translate(624.20,417.20) scale(0.9,1.13)">0 min</text><text transform="translate(624.20,429.70) scale(0.9,1.13)">5 min</text><text transform="translate(624.20,442.20) scale(0.9,1.13)">10 min</text><text transform="translate(624.20,454.70) scale(0.9,1.13)">15 min</text><text transform="translate(624.20,467.20) scale(0.9,1.13)">20 min</text><text transform="translate(624.20,479.70) scale(0.9,1.13)">25 min</text><text transform="translate(624.20,492.20) scale(0.9,1.13)">30 min</text><text transform="translate(624.20,504.70) scale(0.9,1.13)">35 min</text><text transform="translate(624.20,517.20) scale(0.9,1.13)">40 min</text><text transform="translate(624.20,529.70) scale(0.9,1.13)">45 min</text><text transform="translate(624.20,542.20) scale(0.9,1.13)">50 min</text><text transform="translate(624.20,554.70) scale(0.9,1.13)">60 min</text></g>
<text transform="translate(352.60,449.00) rotate(-90) scale(0.93,1.05)" text-anchor="middle" font-family="Liberation Sans, sans-serif" font-weight="bold" font-size="12.25" fill="#1c1c1c">-Z<tspan font-size="6.74" dy="3.67">im</tspan><tspan dy="-3.67">/Ohm.cm</tspan><tspan font-size="6.74" dy="-5.51">2</tspan></text>
<text transform="translate(528.50,614.10) scale(0.93,1.05)" text-anchor="middle" font-family="Liberation Sans, sans-serif" font-weight="bold" font-size="12.0" fill="#1c1c1c">Z<tspan font-size="6.60" dy="3.60">re</tspan><tspan dy="-3.60">/Ohm.cm</tspan><tspan font-size="6.60" dy="-5.40">2</tspan></text>
<text x="646.50" y="350.50" font-family="Liberation Serif, serif" font-weight="bold" font-size="17.5" fill="#1c1c1c">c</text>
<text x="399.60" y="571.80" font-family="Liberation Sans, sans-serif" font-weight="bold" font-size="12.0" letter-spacing="0" fill="#1c1c1c">0.1 M</text>
<rect x="47.50" y="620.20" width="290.20" height="263.80" fill="none" stroke="#2a2a2a" stroke-width="1.5"/>
<path d="M59.59 884.00V881.80M71.68 884.00V881.80M83.78 884.00V880.40M95.87 884.00V881.80M107.96 884.00V881.80M120.05 884.00V880.40M132.14 884.00V881.80M144.23 884.00V881.80M156.32 884.00V880.40M168.42 884.00V881.80M180.51 884.00V881.80M192.60 884.00V880.40M204.69 884.00V881.80M216.78 884.00V881.80M228.87 884.00V880.40M240.97 884.00V881.80M253.06 884.00V881.80M265.15 884.00V880.40M277.24 884.00V881.80M289.33 884.00V881.80M301.42 884.00V880.40M313.52 884.00V881.80M325.61 884.00V881.80M47.50 873.01H49.70M47.50 862.02H49.70M47.50 851.02H51.10M47.50 840.03H49.70M47.50 829.04H49.70M47.50 818.05H51.10M47.50 807.06H49.70M47.50 796.07H49.70M47.50 785.08H51.10M47.50 774.08H49.70M47.50 763.09H49.70M47.50 752.10H51.10M47.50 741.11H49.70M47.50 730.12H49.70M47.50 719.12H51.10M47.50 708.13H49.70M47.50 697.14H49.70M47.50 686.15H51.10M47.50 675.16H49.70M47.50 664.17H49.70M47.50 653.18H51.10M47.50 642.18H49.70M47.50 631.19H49.70" stroke="#111" stroke-width="1.1" fill="none"/>
<g font-family="Liberation Sans, sans-serif" font-weight="bold" font-size="9.3" letter-spacing="0.0" fill="#1c1c1c"><text transform="translate(47.50,897.40) scale(1.0,1.05)" text-anchor="middle">0</text><text transform="translate(83.78,897.40) scale(1.0,1.05)" text-anchor="middle">200</text><text transform="translate(120.05,897.40) scale(1.0,1.05)" text-anchor="middle">400</text><text transform="translate(156.32,897.40) scale(1.0,1.05)" text-anchor="middle">600</text><text transform="translate(192.60,897.40) scale(1.0,1.05)" text-anchor="middle">800</text><text transform="translate(228.87,897.40) scale(1.0,1.05)" text-anchor="middle">1000</text><text transform="translate(265.15,897.40) scale(1.0,1.05)" text-anchor="middle">1200</text><text transform="translate(301.42,897.40) scale(1.0,1.05)" text-anchor="middle">1400</text><text transform="translate(337.70,897.40) scale(1.0,1.05)" text-anchor="middle">1600</text><text transform="translate(41.90,887.40) scale(1.0,1.05)" text-anchor="end">0</text><text transform="translate(41.90,854.42) scale(1.0,1.05)" text-anchor="end">200</text><text transform="translate(41.90,821.45) scale(1.0,1.05)" text-anchor="end">400</text><text transform="translate(41.90,788.48) scale(1.0,1.05)" text-anchor="end">600</text><text transform="translate(41.90,755.50) scale(1.0,1.05)" text-anchor="end">800</text><text transform="translate(41.90,722.52) scale(1.0,1.05)" text-anchor="end">1000</text><text transform="translate(41.90,689.55) scale(1.0,1.05)" text-anchor="end">1200</text><text transform="translate(41.90,656.58) scale(1.0,1.05)" text-anchor="end">1400</text><text transform="translate(41.90,623.60) scale(1.0,1.05)" text-anchor="end">1600</text></g>
<clipPath id="cpd"><rect x="43.50" y="616.20" width="298.20" height="271.80"/></clipPath>
<g clip-path="url(#cpd)">
<path d="M193.40 755.30L167.30 757.20L139.30 762.70L117.00 775.90L101.60 789.50L88.50 803.70L78.90 815.60L71.00 827.10L64.80 836.30L61.00 843.90L57.76 851.49L55.30 857.83L53.43 862.97L52.00 866.93L50.92 870.14L50.10 872.75L49.48 874.87L49.00 876.59L48.64 877.98L48.37 879.12L48.16 880.04L48.00 880.78L47.80 883.70" stroke="#000" stroke-width="1.0" fill="none" shape-rendering="crispEdges"/>
<g fill="#000000"><circle cx="193.40" cy="755.30" r="2.9"/><circle cx="167.30" cy="757.20" r="2.9"/><circle cx="139.30" cy="762.70" r="2.9"/><circle cx="117.00" cy="775.90" r="2.9"/><circle cx="101.60" cy="789.50" r="2.9"/><circle cx="88.50" cy="803.70" r="2.9"/><circle cx="78.90" cy="815.60" r="2.9"/><circle cx="71.00" cy="827.10" r="2.9"/><circle cx="64.80" cy="836.30" r="2.9"/><circle cx="61.00" cy="843.90" r="2.9"/><circle cx="57.76" cy="851.49" r="2.9"/><circle cx="55.30" cy="857.83" r="2.9"/><circle cx="53.43" cy="862.97" r="2.9"/><circle cx="52.00" cy="866.93" r="2.9"/><circle cx="50.92" cy="870.14" r="2.9"/><circle cx="50.10" cy="872.75" r="2.9"/><circle cx="49.48" cy="874.87" r="2.9"/><circle cx="49.00" cy="876.59" r="2.9"/><circle cx="48.64" cy="877.98" r="2.9"/><circle cx="48.37" cy="879.12" r="2.9"/><circle cx="48.16" cy="880.04" r="2.9"/><circle cx="48.00" cy="880.78" r="2.9"/><circle cx="47.80" cy="883.70" r="2.9"/></g>
<path d="M182.70 729.90L157.90 732.90L133.80 745.30L114.00 763.40L97.90 781.80L85.80 799.39L76.61 814.94L69.62 827.85L64.31 838.11L60.28 846.54L57.21 853.68L54.88 859.63L53.11 864.36L51.76 868.06L50.74 871.06L49.96 873.49L49.37 875.47L48.92 877.08L48.58 878.38L48.32 879.44L48.12 880.30L47.97 880.99L47.80 883.70" stroke="#000" stroke-width="1.0" fill="none" shape-rendering="crispEdges"/>
<g fill="#ff0000"><circle cx="182.70" cy="729.90" r="2.9"/><circle cx="157.90" cy="732.90" r="2.9"/><circle cx="133.80" cy="745.30" r="2.9"/><circle cx="114.00" cy="763.40" r="2.9"/><circle cx="97.90" cy="781.80" r="2.9"/><circle cx="85.80" cy="799.39" r="2.9"/><circle cx="76.61" cy="814.94" r="2.9"/><circle cx="69.62" cy="827.85" r="2.9"/><circle cx="64.31" cy="838.11" r="2.9"/><circle cx="60.28" cy="846.54" r="2.9"/><circle cx="57.21" cy="853.68" r="2.9"/><circle cx="54.88" cy="859.63" r="2.9"/><circle cx="53.11" cy="864.36" r="2.9"/><circle cx="51.76" cy="868.06" r="2.9"/><circle cx="50.74" cy="871.06" r="2.9"/><circle cx="49.96" cy="873.49" r="2.9"/><circle cx="49.37" cy="875.47" r="2.9"/><circle cx="48.92" cy="877.08" r="2.9"/><circle cx="48.58" cy="878.38" r="2.9"/><circle cx="48.32" cy="879.44" r="2.9"/><circle cx="48.12" cy="880.30" r="2.9"/><circle cx="47.97" cy="880.99" r="2.9"/><circle cx="47.80" cy="883.70" r="2.9"/></g>
<path d="M187.50 691.80L156.70 713.50L131.40 736.60L111.50 757.70L95.90 776.80L84.28 795.46L75.46 811.83L68.75 825.28L63.65 835.97L59.77 844.85L56.83 852.34L54.59 858.58L52.89 863.47L51.59 867.34L50.61 870.47L49.86 873.02L49.30 875.09L48.87 876.77L48.54 878.13L48.29 879.23L48.10 880.13L47.96 880.86L47.80 883.70" stroke="#000" stroke-width="1.0" fill="none" shape-rendering="crispEdges"/>
<g fill="#00ff00"><circle cx="187.50" cy="691.80" r="2.9"/><circle cx="156.70" cy="713.50" r="2.9"/><circle cx="131.40" cy="736.60" r="2.9"/><circle cx="111.50" cy="757.70" r="2.9"/><circle cx="95.90" cy="776.80" r="2.9"/><circle cx="84.28" cy="795.46" r="2.9"/><circle cx="75.46" cy="811.83" r="2.9"/><circle cx="68.75" cy="825.28" r="2.9"/><circle cx="63.65" cy="835.97" r="2.9"/><circle cx="59.77" cy="844.85" r="2.9"/><circle cx="56.83" cy="852.34" r="2.9"/><circle cx="54.59" cy="858.58" r="2.9"/><circle cx="52.89" cy="863.47" r="2.9"/><circle cx="51.59" cy="867.34" r="2.9"/><circle cx="50.61" cy="870.47" r="2.9"/><circle cx="49.86" cy="873.02" r="2.9"/><circle cx="49.30" cy="875.09" r="2.9"/><circle cx="48.87" cy="876.77" r="2.9"/><circle cx="48.54" cy="878.13" r="2.9"/><circle cx="48.29" cy="879.23" r="2.9"/><circle cx="48.10" cy="880.13" r="2.9"/><circle cx="47.96" cy="880.86" r="2.9"/><circle cx="47.80" cy="883.70" r="2.9"/></g>
<path d="M190.10 680.90L152.80 701.10L127.60 722.50L107.80 747.10L93.33 769.56L82.33 789.78L73.97 807.33L67.62 821.58L62.79 832.88L59.12 842.41L56.33 850.40L54.21 857.07L52.60 862.19L51.38 866.30L50.45 869.63L49.74 872.34L49.20 874.53L48.79 876.31L48.48 877.76L48.25 878.94L48.07 879.89L47.93 880.66L47.80 883.70" stroke="#000" stroke-width="1.0" fill="none" shape-rendering="crispEdges"/>
<g fill="#0000ff"><circle cx="190.10" cy="680.90" r="2.9"/><circle cx="152.80" cy="701.10" r="2.9"/><circle cx="127.60" cy="722.50" r="2.9"/><circle cx="107.80" cy="747.10" r="2.9"/><circle cx="93.33" cy="769.56" r="2.9"/><circle cx="82.33" cy="789.78" r="2.9"/><circle cx="73.97" cy="807.33" r="2.9"/><circle cx="67.62" cy="821.58" r="2.9"/><circle cx="62.79" cy="832.88" r="2.9"/><circle cx="59.12" cy="842.41" r="2.9"/><circle cx="56.33" cy="850.40" r="2.9"/><circle cx="54.21" cy="857.07" r="2.9"/><circle cx="52.60" cy="862.19" r="2.9"/><circle cx="51.38" cy="866.30" r="2.9"/><circle cx="50.45" cy="869.63" r="2.9"/><circle cx="49.74" cy="872.34" r="2.9"/><circle cx="49.20" cy="874.53" r="2.9"/><circle cx="48.79" cy="876.31" r="2.9"/><circle cx="48.48" cy="877.76" r="2.9"/><circle cx="48.25" cy="878.94" r="2.9"/><circle cx="48.07" cy="879.89" r="2.9"/><circle cx="47.93" cy="880.66" r="2.9"/><circle cx="47.80" cy="883.70" r="2.9"/></g>
<path d="M184.40 662.50L150.70 692.30L126.20 719.80L107.00 745.30L92.60 768.20L81.78 788.75L73.55 806.53L67.30 820.92L62.55 832.32L58.94 841.97L56.19 850.07L54.10 856.81L52.52 861.97L51.32 866.11L50.40 869.48L49.70 872.21L49.17 874.43L48.77 876.23L48.47 877.70L48.24 878.88L48.06 879.85L47.92 880.63L47.80 883.70" stroke="#000" stroke-width="1.0" fill="none" shape-rendering="crispEdges"/>
<g fill="#ff00ff"><circle cx="184.40" cy="662.50" r="2.9"/><circle cx="150.70" cy="692.30" r="2.9"/><circle cx="126.20" cy="719.80" r="2.9"/><circle cx="107.00" cy="745.30" r="2.9"/><circle cx="92.60" cy="768.20" r="2.9"/><circle cx="81.78" cy="788.75" r="2.9"/><circle cx="73.55" cy="806.53" r="2.9"/><circle cx="67.30" cy="820.92" r="2.9"/><circle cx="62.55" cy="832.32" r="2.9"/><circle cx="58.94" cy="841.97" r="2.9"/><circle cx="56.19" cy="850.07" r="2.9"/><circle cx="54.10" cy="856.81" r="2.9"/><circle cx="52.52" cy="861.97" r="2.9"/><circle cx="51.32" cy="866.11" r="2.9"/><circle cx="50.40" cy="869.48" r="2.9"/><circle cx="49.70" cy="872.21" r="2.9"/><circle cx="49.17" cy="874.43" r="2.9"/><circle cx="48.77" cy="876.23" r="2.9"/><circle cx="48.47" cy="877.70" r="2.9"/><circle cx="48.24" cy="878.88" r="2.9"/><circle cx="48.06" cy="879.85" r="2.9"/><circle cx="47.92" cy="880.63" r="2.9"/><circle cx="47.80" cy="883.70" r="2.9"/></g>
<path d="M176.80 649.90L147.60 684.50L122.70 713.80L104.65 740.51L90.94 764.37L80.51 785.82L72.59 804.24L66.57 819.01L61.99 830.73L58.51 840.74L55.87 849.11L53.86 856.05L52.33 861.32L51.17 865.59L50.29 869.05L49.62 871.87L49.11 874.15L48.73 876.00L48.43 877.51L48.21 878.73L48.04 879.72L47.91 880.53L47.80 883.70" stroke="#000" stroke-width="1.0" fill="none" shape-rendering="crispEdges"/>
<g fill="#00ffff"><circle cx="176.80" cy="649.90" r="2.9"/><circle cx="147.60" cy="684.50" r="2.9"/><circle cx="122.70" cy="713.80" r="2.9"/><circle cx="104.65" cy="740.51" r="2.9"/><circle cx="90.94" cy="764.37" r="2.9"/><circle cx="80.51" cy="785.82" r="2.9"/><circle cx="72.59" cy="804.24" r="2.9"/><circle cx="66.57" cy="819.01" r="2.9"/><circle cx="61.99" cy="830.73" r="2.9"/><circle cx="58.51" cy="840.74" r="2.9"/><circle cx="55.87" cy="849.11" r="2.9"/><circle cx="53.86" cy="856.05" r="2.9"/><circle cx="52.33" cy="861.32" r="2.9"/><circle cx="51.17" cy="865.59" r="2.9"/><circle cx="50.29" cy="869.05" r="2.9"/><circle cx="49.62" cy="871.87" r="2.9"/><circle cx="49.11" cy="874.15" r="2.9"/><circle cx="48.73" cy="876.00" r="2.9"/><circle cx="48.43" cy="877.51" r="2.9"/><circle cx="48.21" cy="878.73" r="2.9"/><circle cx="48.04" cy="879.72" r="2.9"/><circle cx="47.91" cy="880.53" r="2.9"/><circle cx="47.80" cy="883.70" r="2.9"/></g>
<path d="M178.50 647.60L146.10 681.70L122.40 713.10L104.42 739.90L90.76 763.88L80.38 785.44L72.49 803.95L66.49 818.76L61.93 830.53L58.47 840.59L55.84 848.98L53.84 855.95L52.32 861.23L51.16 865.52L50.28 869.00L49.61 871.82L49.11 874.11L48.72 875.98L48.43 877.49L48.21 878.71L48.04 879.71L47.91 880.52L47.80 883.70" stroke="#000" stroke-width="1.0" fill="none" shape-rendering="crispEdges"/>
<g fill="#c0c0c0"><circle cx="178.50" cy="647.60" r="2.9"/><circle cx="146.10" cy="681.70" r="2.9"/><circle cx="122.40" cy="713.10" r="2.9"/><circle cx="104.42" cy="739.90" r="2.9"/><circle cx="90.76" cy="763.88" r="2.9"/><circle cx="80.38" cy="785.44" r="2.9"/><circle cx="72.49" cy="803.95" r="2.9"/><circle cx="66.49" cy="818.76" r="2.9"/><circle cx="61.93" cy="830.53" r="2.9"/><circle cx="58.47" cy="840.59" r="2.9"/><circle cx="55.84" cy="848.98" r="2.9"/><circle cx="53.84" cy="855.95" r="2.9"/><circle cx="52.32" cy="861.23" r="2.9"/><circle cx="51.16" cy="865.52" r="2.9"/><circle cx="50.28" cy="869.00" r="2.9"/><circle cx="49.61" cy="871.82" r="2.9"/><circle cx="49.11" cy="874.11" r="2.9"/><circle cx="48.72" cy="875.98" r="2.9"/><circle cx="48.43" cy="877.49" r="2.9"/><circle cx="48.21" cy="878.71" r="2.9"/><circle cx="48.04" cy="879.71" r="2.9"/><circle cx="47.91" cy="880.52" r="2.9"/><circle cx="47.80" cy="883.70" r="2.9"/></g>
<path d="M189.50 663.30L154.50 689.70L140.40 704.20L103.00 740.00L89.68 764.12L79.56 785.81L71.86 804.26L66.02 818.98L61.57 830.76L58.19 840.79L55.63 849.18L53.68 856.07L52.19 861.33L51.07 865.60L50.21 869.06L49.56 871.87L49.07 874.16L48.69 876.01L48.40 877.51L48.19 878.73L48.02 879.73L47.80 883.70" stroke="#000" stroke-width="1.0" fill="none" shape-rendering="crispEdges"/>
<g fill="#800000"><circle cx="189.50" cy="663.30" r="2.9"/><circle cx="154.50" cy="689.70" r="2.9"/><circle cx="140.40" cy="704.20" r="2.9"/><circle cx="103.00" cy="740.00" r="2.9"/><circle cx="89.68" cy="764.12" r="2.9"/><circle cx="79.56" cy="785.81" r="2.9"/><circle cx="71.86" cy="804.26" r="2.9"/><circle cx="66.02" cy="818.98" r="2.9"/><circle cx="61.57" cy="830.76" r="2.9"/><circle cx="58.19" cy="840.79" r="2.9"/><circle cx="55.63" cy="849.18" r="2.9"/><circle cx="53.68" cy="856.07" r="2.9"/><circle cx="52.19" cy="861.33" r="2.9"/><circle cx="51.07" cy="865.60" r="2.9"/><circle cx="50.21" cy="869.06" r="2.9"/><circle cx="49.56" cy="871.87" r="2.9"/><circle cx="49.07" cy="874.16" r="2.9"/><circle cx="48.69" cy="876.01" r="2.9"/><circle cx="48.40" cy="877.51" r="2.9"/><circle cx="48.19" cy="878.73" r="2.9"/><circle cx="48.02" cy="879.73" r="2.9"/><circle cx="47.80" cy="883.70" r="2.9"/></g>
<path d="M172.70 634.80L141.08 671.21L118.97 705.59L100.94 735.01L88.04 760.16L78.82 781.36L71.74 799.51L66.12 814.63L61.66 827.10L58.36 837.45L55.74 846.47L53.71 854.18L52.22 859.79L51.08 864.35L50.22 868.05L49.57 871.05L49.07 873.49L48.70 875.47L48.41 877.08L48.19 878.38L48.03 879.44L47.80 883.70" stroke="#000" stroke-width="1.0" fill="none" shape-rendering="crispEdges"/>
<g fill="#800080"><circle cx="172.70" cy="634.80" r="2.9"/><circle cx="141.08" cy="671.21" r="2.9"/><circle cx="118.97" cy="705.59" r="2.9"/><circle cx="100.94" cy="735.01" r="2.9"/><circle cx="88.04" cy="760.16" r="2.9"/><circle cx="78.82" cy="781.36" r="2.9"/><circle cx="71.74" cy="799.51" r="2.9"/><circle cx="66.12" cy="814.63" r="2.9"/><circle cx="61.66" cy="827.10" r="2.9"/><circle cx="58.36" cy="837.45" r="2.9"/><circle cx="55.74" cy="846.47" r="2.9"/><circle cx="53.71" cy="854.18" r="2.9"/><circle cx="52.22" cy="859.79" r="2.9"/><circle cx="51.08" cy="864.35" r="2.9"/><circle cx="50.22" cy="868.05" r="2.9"/><circle cx="49.57" cy="871.05" r="2.9"/><circle cx="49.07" cy="873.49" r="2.9"/><circle cx="48.70" cy="875.47" r="2.9"/><circle cx="48.41" cy="877.08" r="2.9"/><circle cx="48.19" cy="878.38" r="2.9"/><circle cx="48.03" cy="879.44" r="2.9"/><circle cx="47.80" cy="883.70" r="2.9"/></g>
<path d="M176.60 638.30L144.00 674.20L121.20 708.10L102.60 737.10L89.30 761.90L79.80 782.80L72.50 800.70L66.70 815.60L62.10 827.90L58.70 838.10L56.00 847.00L53.90 854.60L52.36 860.13L51.20 864.63L50.31 868.27L49.64 871.24L49.12 873.64L48.73 875.59L48.44 877.17L48.21 878.46L48.04 879.50L47.91 880.35L47.80 883.70" stroke="#000" stroke-width="1.0" fill="none" shape-rendering="crispEdges"/>
<g fill="#808000"><circle cx="176.60" cy="638.30" r="2.9"/><circle cx="144.00" cy="674.20" r="2.9"/><circle cx="121.20" cy="708.10" r="2.9"/><circle cx="102.60" cy="737.10" r="2.9"/><circle cx="89.30" cy="761.90" r="2.9"/><circle cx="79.80" cy="782.80" r="2.9"/><circle cx="72.50" cy="800.70" r="2.9"/><circle cx="66.70" cy="815.60" r="2.9"/><circle cx="62.10" cy="827.90" r="2.9"/><circle cx="58.70" cy="838.10" r="2.9"/><circle cx="56.00" cy="847.00" r="2.9"/><circle cx="53.90" cy="854.60" r="2.9"/><circle cx="52.36" cy="860.13" r="2.9"/><circle cx="51.20" cy="864.63" r="2.9"/><circle cx="50.31" cy="868.27" r="2.9"/><circle cx="49.64" cy="871.24" r="2.9"/><circle cx="49.12" cy="873.64" r="2.9"/><circle cx="48.73" cy="875.59" r="2.9"/><circle cx="48.44" cy="877.17" r="2.9"/><circle cx="48.21" cy="878.46" r="2.9"/><circle cx="48.04" cy="879.50" r="2.9"/><circle cx="47.91" cy="880.35" r="2.9"/><circle cx="47.80" cy="883.70" r="2.9"/></g>
<path d="M184.90 676.80L153.00 705.30L128.10 728.50L108.80 751.50L93.90 772.60L82.10 790.90L74.00 807.30L67.60 819.90L63.00 831.70L59.20 840.40L56.50 847.70L54.50 855.30L52.82 860.81L51.54 865.17L50.57 868.72L49.84 871.59L49.27 873.93L48.85 875.83L48.53 877.36L48.28 878.61L48.09 879.63L47.95 880.45L47.80 883.70" stroke="#000" stroke-width="1.0" fill="none" shape-rendering="crispEdges"/>
<g fill="#ffff00"><circle cx="184.90" cy="676.80" r="2.9"/><circle cx="153.00" cy="705.30" r="2.9"/><circle cx="128.10" cy="728.50" r="2.9"/><circle cx="108.80" cy="751.50" r="2.9"/><circle cx="93.90" cy="772.60" r="2.9"/><circle cx="82.10" cy="790.90" r="2.9"/><circle cx="74.00" cy="807.30" r="2.9"/><circle cx="67.60" cy="819.90" r="2.9"/><circle cx="63.00" cy="831.70" r="2.9"/><circle cx="59.20" cy="840.40" r="2.9"/><circle cx="56.50" cy="847.70" r="2.9"/><circle cx="54.50" cy="855.30" r="2.9"/><circle cx="52.82" cy="860.81" r="2.9"/><circle cx="51.54" cy="865.17" r="2.9"/><circle cx="50.57" cy="868.72" r="2.9"/><circle cx="49.84" cy="871.59" r="2.9"/><circle cx="49.27" cy="873.93" r="2.9"/><circle cx="48.85" cy="875.83" r="2.9"/><circle cx="48.53" cy="877.36" r="2.9"/><circle cx="48.28" cy="878.61" r="2.9"/><circle cx="48.09" cy="879.63" r="2.9"/><circle cx="47.95" cy="880.45" r="2.9"/><circle cx="47.80" cy="883.70" r="2.9"/></g>
</g>
<rect x="238.50" y="716.60" width="89.90" height="153.10" fill="#fff" stroke="#222" stroke-width="1.3"/>
<path d="M247.50 730.50h19.70" stroke="#111" stroke-width="1"/><circle cx="257.35" cy="730.40" r="2.8" fill="#000000"/><path d="M247.50 742.50h19.70" stroke="#111" stroke-width="1"/><circle cx="257.35" cy="742.90" r="2.8" fill="#ff0000"/><path d="M247.50 755.50h19.70" stroke="#111" stroke-width="1"/><circle cx="257.35" cy="755.40" r="2.8" fill="#00ff00"/><path d="M247.50 767.50h19.70" stroke="#111" stroke-width="1"/><circle cx="257.35" cy="767.90" r="2.8" fill="#0000ff"/><path d="M247.50 780.50h19.70" stroke="#111" stroke-width="1"/><circle cx="257.35" cy="780.40" r="2.8" fill="#ff00ff"/><path d="M247.50 792.50h19.70" stroke="#111" stroke-width="1"/><circle cx="257.35" cy="792.90" r="2.8" fill="#00ffff"/><path d="M247.50 805.50h19.70" stroke="#111" stroke-width="1"/><circle cx="257.35" cy="805.40" r="2.8" fill="#c0c0c0"/><path d="M247.50 817.50h19.70" stroke="#111" stroke-width="1"/><circle cx="257.35" cy="817.90" r="2.8" fill="#800000"/><path d="M247.50 830.50h19.70" stroke="#111" stroke-width="1"/><circle cx="257.35" cy="830.40" r="2.8" fill="#800080"/><path d="M247.50 842.50h19.70" stroke="#111" stroke-width="1"/><circle cx="257.35" cy="842.90" r="2.8" fill="#808000"/><path d="M247.50 855.50h19.70" stroke="#111" stroke-width="1"/><circle cx="257.35" cy="855.40" r="2.8" fill="#ffff00"/>
<g font-family="Liberation Sans, sans-serif" font-weight="bold" font-size="9.0" letter-spacing="0.5" fill="#1c1c1c"><text transform="translate(272.00,733.60) scale(0.9,1.13)">0 minutes</text><text transform="translate(272.00,746.10) scale(0.9,1.13)">5 minutes</text><text transform="translate(272.00,758.60) scale(0.9,1.13)">10 minutes</text><text transform="translate(272.00,771.10) scale(0.9,1.13)">20 minutes</text><text transform="translate(272.00,783.60) scale(0.9,1.13)">25 minutes</text><text transform="translate(272.00,796.10) scale(0.9,1.13)">30 minutes</text><text transform="translate(272.00,808.60) scale(0.9,1.13)">35 minutes</text><text transform="translate(272.00,821.10) scale(0.9,1.13)">40 minutes</text><text transform="translate(272.00,833.60) scale(0.9,1.13)">50 minutes</text><text transform="translate(272.00,846.10) scale(0.9,1.13)">60 minutes</text><text transform="translate(272.00,858.60) scale(0.9,1.13)">15 minutes</text></g>
<text transform="translate(13.70,750.00) rotate(-90) scale(0.93,1.05)" text-anchor="middle" font-family="Liberation Sans, sans-serif" font-weight="bold" font-size="12.25" fill="#1c1c1c">-Z<tspan font-size="6.74" dy="3.67">im</tspan><tspan dy="-3.67">/Ohm.cm</tspan><tspan font-size="6.74" dy="-5.51">2</tspan></text>
<text transform="translate(191.50,912.70) scale(0.93,1.05)" text-anchor="middle" font-family="Liberation Sans, sans-serif" font-weight="bold" font-size="12.0" fill="#1c1c1c">Z<tspan font-size="6.60" dy="3.60">re</tspan><tspan dy="-3.60">/Ohm.cm</tspan><tspan font-size="6.60" dy="-5.40">2</tspan></text>
<text x="305.20" y="646.40" font-family="Liberation Serif, serif" font-weight="bold" font-size="17.5" fill="#1c1c1c">d</text>
<text x="60.60" y="868.80" font-family="Liberation Sans, sans-serif" font-weight="bold" font-size="11.0" letter-spacing="0.3" fill="#1c1c1c">0.25 M</text>
<rect x="384.50" y="623.40" width="290.30" height="263.60" fill="none" stroke="#2a2a2a" stroke-width="1.5"/>
<path d="M396.60 887.00V884.80M408.69 887.00V884.80M420.79 887.00V883.40M432.88 887.00V884.80M444.98 887.00V884.80M457.07 887.00V883.40M469.17 887.00V884.80M481.27 887.00V884.80M493.36 887.00V883.40M505.46 887.00V884.80M517.55 887.00V884.80M529.65 887.00V883.40M541.75 887.00V884.80M553.84 887.00V884.80M565.94 887.00V883.40M578.03 887.00V884.80M590.13 887.00V884.80M602.22 887.00V883.40M614.32 887.00V884.80M626.42 887.00V884.80M638.51 887.00V883.40M650.61 887.00V884.80M662.70 887.00V884.80M384.50 876.02H386.70M384.50 865.03H386.70M384.50 854.05H388.10M384.50 843.07H386.70M384.50 832.08H386.70M384.50 821.10H388.10M384.50 810.12H386.70M384.50 799.13H386.70M384.50 788.15H388.10M384.50 777.17H386.70M384.50 766.18H386.70M384.50 755.20H388.10M384.50 744.22H386.70M384.50 733.23H386.70M384.50 722.25H388.10M384.50 711.27H386.70M384.50 700.28H386.70M384.50 689.30H388.10M384.50 678.32H386.70M384.50 667.33H386.70M384.50 656.35H388.10M384.50 645.37H386.70M384.50 634.38H386.70" stroke="#111" stroke-width="1.1" fill="none"/>
<g font-family="Liberation Sans, sans-serif" font-weight="bold" font-size="9.3" letter-spacing="0.0" fill="#1c1c1c"><text transform="translate(384.50,899.40) scale(1.0,1.05)" text-anchor="middle">0</text><text transform="translate(420.79,899.40) scale(1.0,1.05)" text-anchor="middle">200</text><text transform="translate(457.07,899.40) scale(1.0,1.05)" text-anchor="middle">400</text><text transform="translate(493.36,899.40) scale(1.0,1.05)" text-anchor="middle">600</text><text transform="translate(529.65,899.40) scale(1.0,1.05)" text-anchor="middle">800</text><text transform="translate(565.94,899.40) scale(1.0,1.05)" text-anchor="middle">1000</text><text transform="translate(602.22,899.40) scale(1.0,1.05)" text-anchor="middle">1200</text><text transform="translate(638.51,899.40) scale(1.0,1.05)" text-anchor="middle">1400</text><text transform="translate(674.80,899.40) scale(1.0,1.05)" text-anchor="middle">1600</text><text transform="translate(378.90,890.40) scale(1.0,1.05)" text-anchor="end">0</text><text transform="translate(378.90,857.45) scale(1.0,1.05)" text-anchor="end">200</text><text transform="translate(378.90,824.50) scale(1.0,1.05)" text-anchor="end">400</text><text transform="translate(378.90,791.55) scale(1.0,1.05)" text-anchor="end">600</text><text transform="translate(378.90,758.60) scale(1.0,1.05)" text-anchor="end">800</text><text transform="translate(378.90,725.65) scale(1.0,1.05)" text-anchor="end">1000</text><text transform="translate(378.90,692.70) scale(1.0,1.05)" text-anchor="end">1200</text><text transform="translate(378.90,659.75) scale(1.0,1.05)" text-anchor="end">1400</text><text transform="translate(378.90,626.80) scale(1.0,1.05)" text-anchor="end">1600</text></g>
<clipPath id="cpe"><rect x="380.50" y="619.40" width="298.30" height="271.60"/></clipPath>
<g clip-path="url(#cpe)">
<path d="M537.60 732.80L507.60 745.30L483.10 758.00L461.70 772.90L443.70 787.80L430.20 801.50L419.30 813.90L410.60 825.30L404.80 834.70L399.93 843.93L396.23 852.18L393.41 859.06L391.27 864.32L389.65 868.79L388.41 872.38L387.47 875.26L386.76 877.57L386.22 879.43L385.81 880.92L385.49 882.12L385.25 883.08L385.07 883.86L384.94 884.48L384.80 886.70" stroke="#000" stroke-width="1.0" fill="none" shape-rendering="crispEdges"/>
<g fill="#000000"><circle cx="537.60" cy="732.80" r="2.9"/><circle cx="507.60" cy="745.30" r="2.9"/><circle cx="483.10" cy="758.00" r="2.9"/><circle cx="461.70" cy="772.90" r="2.9"/><circle cx="443.70" cy="787.80" r="2.9"/><circle cx="430.20" cy="801.50" r="2.9"/><circle cx="419.30" cy="813.90" r="2.9"/><circle cx="410.60" cy="825.30" r="2.9"/><circle cx="404.80" cy="834.70" r="2.9"/><circle cx="399.93" cy="843.93" r="2.9"/><circle cx="396.23" cy="852.18" r="2.9"/><circle cx="393.41" cy="859.06" r="2.9"/><circle cx="391.27" cy="864.32" r="2.9"/><circle cx="389.65" cy="868.79" r="2.9"/><circle cx="388.41" cy="872.38" r="2.9"/><circle cx="387.47" cy="875.26" r="2.9"/><circle cx="386.76" cy="877.57" r="2.9"/><circle cx="386.22" cy="879.43" r="2.9"/><circle cx="385.81" cy="880.92" r="2.9"/><circle cx="385.49" cy="882.12" r="2.9"/><circle cx="385.25" cy="883.08" r="2.9"/><circle cx="385.07" cy="883.86" r="2.9"/><circle cx="384.94" cy="884.48" r="2.9"/><circle cx="384.80" cy="886.70" r="2.9"/></g>
<path d="M538.90 699.30L506.10 719.00L479.10 738.20L457.20 758.00L439.30 776.20L426.50 793.20L416.10 807.70L408.90 821.20L403.10 832.60L398.64 842.15L395.24 851.37L392.66 857.95L390.71 863.59L389.22 868.20L388.08 871.91L387.22 874.88L386.57 877.27L386.07 879.19L385.70 880.73L385.41 881.97L385.19 882.96L385.02 883.75L384.80 886.70" stroke="#000" stroke-width="1.0" fill="none" shape-rendering="crispEdges"/>
<g fill="#ff0000"><circle cx="538.90" cy="699.30" r="2.9"/><circle cx="506.10" cy="719.00" r="2.9"/><circle cx="479.10" cy="738.20" r="2.9"/><circle cx="457.20" cy="758.00" r="2.9"/><circle cx="439.30" cy="776.20" r="2.9"/><circle cx="426.50" cy="793.20" r="2.9"/><circle cx="416.10" cy="807.70" r="2.9"/><circle cx="408.90" cy="821.20" r="2.9"/><circle cx="403.10" cy="832.60" r="2.9"/><circle cx="398.64" cy="842.15" r="2.9"/><circle cx="395.24" cy="851.37" r="2.9"/><circle cx="392.66" cy="857.95" r="2.9"/><circle cx="390.71" cy="863.59" r="2.9"/><circle cx="389.22" cy="868.20" r="2.9"/><circle cx="388.08" cy="871.91" r="2.9"/><circle cx="387.22" cy="874.88" r="2.9"/><circle cx="386.57" cy="877.27" r="2.9"/><circle cx="386.07" cy="879.19" r="2.9"/><circle cx="385.70" cy="880.73" r="2.9"/><circle cx="385.41" cy="881.97" r="2.9"/><circle cx="385.19" cy="882.96" r="2.9"/><circle cx="385.02" cy="883.75" r="2.9"/><circle cx="384.80" cy="886.70" r="2.9"/></g>
<path d="M537.80 679.80L503.20 703.60L475.80 727.30L453.90 749.60L437.50 768.90L424.40 788.70L415.10 805.70L407.76 821.04L402.17 832.87L397.93 842.34L394.71 851.83L392.26 858.11L390.40 863.81L388.98 868.38L387.91 872.05L387.09 875.00L386.47 877.36L386.00 879.26L385.64 880.79L385.36 882.01L385.16 883.00L385.00 883.78L384.80 886.70" stroke="#000" stroke-width="1.0" fill="none" shape-rendering="crispEdges"/>
<g fill="#00ff00"><circle cx="537.80" cy="679.80" r="2.9"/><circle cx="503.20" cy="703.60" r="2.9"/><circle cx="475.80" cy="727.30" r="2.9"/><circle cx="453.90" cy="749.60" r="2.9"/><circle cx="437.50" cy="768.90" r="2.9"/><circle cx="424.40" cy="788.70" r="2.9"/><circle cx="415.10" cy="805.70" r="2.9"/><circle cx="407.76" cy="821.04" r="2.9"/><circle cx="402.17" cy="832.87" r="2.9"/><circle cx="397.93" cy="842.34" r="2.9"/><circle cx="394.71" cy="851.83" r="2.9"/><circle cx="392.26" cy="858.11" r="2.9"/><circle cx="390.40" cy="863.81" r="2.9"/><circle cx="388.98" cy="868.38" r="2.9"/><circle cx="387.91" cy="872.05" r="2.9"/><circle cx="387.09" cy="875.00" r="2.9"/><circle cx="386.47" cy="877.36" r="2.9"/><circle cx="386.00" cy="879.26" r="2.9"/><circle cx="385.64" cy="880.79" r="2.9"/><circle cx="385.36" cy="882.01" r="2.9"/><circle cx="385.16" cy="883.00" r="2.9"/><circle cx="385.00" cy="883.78" r="2.9"/><circle cx="384.80" cy="886.70" r="2.9"/></g>
<path d="M533.20 657.20L497.70 686.40L471.50 715.30L450.70 741.50L434.90 764.50L422.80 786.07L413.61 804.69L406.62 820.25L401.31 832.09L397.28 841.84L394.21 851.34L391.88 857.83L390.11 863.58L388.76 868.20L387.74 871.90L386.96 874.88L386.37 877.27L385.92 879.19L385.58 880.73L385.32 881.96L385.12 882.96L384.97 883.75L384.80 886.70" stroke="#000" stroke-width="1.0" fill="none" shape-rendering="crispEdges"/>
<g fill="#0000ff"><circle cx="533.20" cy="657.20" r="2.9"/><circle cx="497.70" cy="686.40" r="2.9"/><circle cx="471.50" cy="715.30" r="2.9"/><circle cx="450.70" cy="741.50" r="2.9"/><circle cx="434.90" cy="764.50" r="2.9"/><circle cx="422.80" cy="786.07" r="2.9"/><circle cx="413.61" cy="804.69" r="2.9"/><circle cx="406.62" cy="820.25" r="2.9"/><circle cx="401.31" cy="832.09" r="2.9"/><circle cx="397.28" cy="841.84" r="2.9"/><circle cx="394.21" cy="851.34" r="2.9"/><circle cx="391.88" cy="857.83" r="2.9"/><circle cx="390.11" cy="863.58" r="2.9"/><circle cx="388.76" cy="868.20" r="2.9"/><circle cx="387.74" cy="871.90" r="2.9"/><circle cx="386.96" cy="874.88" r="2.9"/><circle cx="386.37" cy="877.27" r="2.9"/><circle cx="385.92" cy="879.19" r="2.9"/><circle cx="385.58" cy="880.73" r="2.9"/><circle cx="385.32" cy="881.96" r="2.9"/><circle cx="385.12" cy="882.96" r="2.9"/><circle cx="384.97" cy="883.75" r="2.9"/><circle cx="384.80" cy="886.70" r="2.9"/></g>
<path d="M531.00 648.90L496.22 681.87L468.73 713.50L448.62 741.47L433.54 765.02L422.25 785.88L413.74 803.47L407.38 817.79L402.04 829.71L397.84 839.71L395.07 848.65L392.50 855.57L390.58 861.71L389.12 866.69L388.01 870.70L387.17 873.91L386.53 876.49L386.04 878.56L385.67 880.23L385.39 881.56L385.18 882.63L385.01 883.49L384.80 886.70" stroke="#000" stroke-width="1.0" fill="none" shape-rendering="crispEdges"/>
<g fill="#ff00ff"><circle cx="531.00" cy="648.90" r="2.9"/><circle cx="496.22" cy="681.87" r="2.9"/><circle cx="468.73" cy="713.50" r="2.9"/><circle cx="448.62" cy="741.47" r="2.9"/><circle cx="433.54" cy="765.02" r="2.9"/><circle cx="422.25" cy="785.88" r="2.9"/><circle cx="413.74" cy="803.47" r="2.9"/><circle cx="407.38" cy="817.79" r="2.9"/><circle cx="402.04" cy="829.71" r="2.9"/><circle cx="397.84" cy="839.71" r="2.9"/><circle cx="395.07" cy="848.65" r="2.9"/><circle cx="392.50" cy="855.57" r="2.9"/><circle cx="390.58" cy="861.71" r="2.9"/><circle cx="389.12" cy="866.69" r="2.9"/><circle cx="388.01" cy="870.70" r="2.9"/><circle cx="387.17" cy="873.91" r="2.9"/><circle cx="386.53" cy="876.49" r="2.9"/><circle cx="386.04" cy="878.56" r="2.9"/><circle cx="385.67" cy="880.23" r="2.9"/><circle cx="385.39" cy="881.56" r="2.9"/><circle cx="385.18" cy="882.63" r="2.9"/><circle cx="385.01" cy="883.49" r="2.9"/><circle cx="384.80" cy="886.70" r="2.9"/></g>
<path d="M529.50 641.90L495.08 675.84L467.86 708.39L447.96 737.19L433.04 761.43L421.87 782.90L413.44 801.01L407.14 815.76L401.86 828.03L397.70 838.32L394.96 847.52L392.42 854.64L390.52 860.99L389.07 866.12L387.98 870.23L387.14 873.54L386.51 876.19L386.03 878.32L385.66 880.03L385.38 881.41L385.17 882.51L385.01 883.39L384.80 886.70" stroke="#000" stroke-width="1.0" fill="none" shape-rendering="crispEdges"/>
<g fill="#00ffff"><circle cx="529.50" cy="641.90" r="2.9"/><circle cx="495.08" cy="675.84" r="2.9"/><circle cx="467.86" cy="708.39" r="2.9"/><circle cx="447.96" cy="737.19" r="2.9"/><circle cx="433.04" cy="761.43" r="2.9"/><circle cx="421.87" cy="782.90" r="2.9"/><circle cx="413.44" cy="801.01" r="2.9"/><circle cx="407.14" cy="815.76" r="2.9"/><circle cx="401.86" cy="828.03" r="2.9"/><circle cx="397.70" cy="838.32" r="2.9"/><circle cx="394.96" cy="847.52" r="2.9"/><circle cx="392.42" cy="854.64" r="2.9"/><circle cx="390.52" cy="860.99" r="2.9"/><circle cx="389.07" cy="866.12" r="2.9"/><circle cx="387.98" cy="870.23" r="2.9"/><circle cx="387.14" cy="873.54" r="2.9"/><circle cx="386.51" cy="876.19" r="2.9"/><circle cx="386.03" cy="878.32" r="2.9"/><circle cx="385.66" cy="880.03" r="2.9"/><circle cx="385.38" cy="881.41" r="2.9"/><circle cx="385.17" cy="882.51" r="2.9"/><circle cx="385.01" cy="883.39" r="2.9"/><circle cx="384.80" cy="886.70" r="2.9"/></g>
<path d="M530.00 645.50L495.46 678.94L468.15 711.02L448.18 739.39L433.20 763.28L422.00 784.43L413.54 802.28L407.22 816.80L401.92 828.89L397.75 839.03L394.99 848.10L392.45 855.12L390.54 861.36L389.09 866.42L387.99 870.47L387.15 873.73L386.52 876.35L386.03 878.45L385.66 880.13L385.38 881.49L385.17 882.57L385.01 883.45L384.80 886.70" stroke="#000" stroke-width="1.0" fill="none" shape-rendering="crispEdges"/>
<g fill="#c0c0c0"><circle cx="530.00" cy="645.50" r="2.9"/><circle cx="495.46" cy="678.94" r="2.9"/><circle cx="468.15" cy="711.02" r="2.9"/><circle cx="448.18" cy="739.39" r="2.9"/><circle cx="433.20" cy="763.28" r="2.9"/><circle cx="422.00" cy="784.43" r="2.9"/><circle cx="413.54" cy="802.28" r="2.9"/><circle cx="407.22" cy="816.80" r="2.9"/><circle cx="401.92" cy="828.89" r="2.9"/><circle cx="397.75" cy="839.03" r="2.9"/><circle cx="394.99" cy="848.10" r="2.9"/><circle cx="392.45" cy="855.12" r="2.9"/><circle cx="390.54" cy="861.36" r="2.9"/><circle cx="389.09" cy="866.42" r="2.9"/><circle cx="387.99" cy="870.47" r="2.9"/><circle cx="387.15" cy="873.73" r="2.9"/><circle cx="386.52" cy="876.35" r="2.9"/><circle cx="386.03" cy="878.45" r="2.9"/><circle cx="385.66" cy="880.13" r="2.9"/><circle cx="385.38" cy="881.49" r="2.9"/><circle cx="385.17" cy="882.57" r="2.9"/><circle cx="385.01" cy="883.45" r="2.9"/><circle cx="384.80" cy="886.70" r="2.9"/></g>
<path d="M527.30 644.50L497.70 678.00L469.90 710.20L448.50 738.20L433.14 762.75L421.47 784.85L412.59 803.81L405.85 819.43L400.73 831.39L396.83 841.58L393.87 850.90L391.62 857.57L389.91 863.37L388.61 868.03L387.63 871.77L386.88 874.77L386.31 877.18L385.87 879.12L385.54 880.67L385.29 881.92L385.10 882.92L384.96 883.72L384.80 886.70" stroke="#000" stroke-width="1.0" fill="none" shape-rendering="crispEdges"/>
<g fill="#800000"><circle cx="527.30" cy="644.50" r="2.9"/><circle cx="497.70" cy="678.00" r="2.9"/><circle cx="469.90" cy="710.20" r="2.9"/><circle cx="448.50" cy="738.20" r="2.9"/><circle cx="433.14" cy="762.75" r="2.9"/><circle cx="421.47" cy="784.85" r="2.9"/><circle cx="412.59" cy="803.81" r="2.9"/><circle cx="405.85" cy="819.43" r="2.9"/><circle cx="400.73" cy="831.39" r="2.9"/><circle cx="396.83" cy="841.58" r="2.9"/><circle cx="393.87" cy="850.90" r="2.9"/><circle cx="391.62" cy="857.57" r="2.9"/><circle cx="389.91" cy="863.37" r="2.9"/><circle cx="388.61" cy="868.03" r="2.9"/><circle cx="387.63" cy="871.77" r="2.9"/><circle cx="386.88" cy="874.77" r="2.9"/><circle cx="386.31" cy="877.18" r="2.9"/><circle cx="385.87" cy="879.12" r="2.9"/><circle cx="385.54" cy="880.67" r="2.9"/><circle cx="385.29" cy="881.92" r="2.9"/><circle cx="385.10" cy="882.92" r="2.9"/><circle cx="384.96" cy="883.72" r="2.9"/><circle cx="384.80" cy="886.70" r="2.9"/></g>
<path d="M528.00 641.50L493.93 675.50L467.00 708.10L447.31 736.94L432.53 761.23L421.48 782.73L413.14 800.87L406.91 815.64L401.68 827.93L397.56 838.24L394.85 847.45L392.34 854.59L390.46 860.97L389.03 866.10L387.94 870.22L387.12 873.53L386.49 876.18L386.01 878.32L385.65 880.03L385.37 881.40L385.16 882.51L385.00 883.39L384.80 886.70" stroke="#000" stroke-width="1.0" fill="none" shape-rendering="crispEdges"/>
<g fill="#008000"><circle cx="528.00" cy="641.50" r="2.9"/><circle cx="493.93" cy="675.50" r="2.9"/><circle cx="467.00" cy="708.10" r="2.9"/><circle cx="447.31" cy="736.94" r="2.9"/><circle cx="432.53" cy="761.23" r="2.9"/><circle cx="421.48" cy="782.73" r="2.9"/><circle cx="413.14" cy="800.87" r="2.9"/><circle cx="406.91" cy="815.64" r="2.9"/><circle cx="401.68" cy="827.93" r="2.9"/><circle cx="397.56" cy="838.24" r="2.9"/><circle cx="394.85" cy="847.45" r="2.9"/><circle cx="392.34" cy="854.59" r="2.9"/><circle cx="390.46" cy="860.97" r="2.9"/><circle cx="389.03" cy="866.10" r="2.9"/><circle cx="387.94" cy="870.22" r="2.9"/><circle cx="387.12" cy="873.53" r="2.9"/><circle cx="386.49" cy="876.18" r="2.9"/><circle cx="386.01" cy="878.32" r="2.9"/><circle cx="385.65" cy="880.03" r="2.9"/><circle cx="385.37" cy="881.40" r="2.9"/><circle cx="385.16" cy="882.51" r="2.9"/><circle cx="385.00" cy="883.39" r="2.9"/><circle cx="384.80" cy="886.70" r="2.9"/></g>
<path d="M525.50 635.30L492.03 670.15L465.57 703.59L446.21 733.16L431.70 758.05L420.84 780.10L412.64 798.70L406.52 813.84L401.38 826.44L397.34 837.01L394.67 846.46L392.20 853.77L390.35 860.32L388.95 865.58L387.88 869.80L387.07 873.19L386.45 875.91L385.98 878.10L385.63 879.85L385.36 881.26L385.15 882.39L385.00 883.30L384.80 886.70" stroke="#000" stroke-width="1.0" fill="none" shape-rendering="crispEdges"/>
<g fill="#800080"><circle cx="525.50" cy="635.30" r="2.9"/><circle cx="492.03" cy="670.15" r="2.9"/><circle cx="465.57" cy="703.59" r="2.9"/><circle cx="446.21" cy="733.16" r="2.9"/><circle cx="431.70" cy="758.05" r="2.9"/><circle cx="420.84" cy="780.10" r="2.9"/><circle cx="412.64" cy="798.70" r="2.9"/><circle cx="406.52" cy="813.84" r="2.9"/><circle cx="401.38" cy="826.44" r="2.9"/><circle cx="397.34" cy="837.01" r="2.9"/><circle cx="394.67" cy="846.46" r="2.9"/><circle cx="392.20" cy="853.77" r="2.9"/><circle cx="390.35" cy="860.32" r="2.9"/><circle cx="388.95" cy="865.58" r="2.9"/><circle cx="387.88" cy="869.80" r="2.9"/><circle cx="387.07" cy="873.19" r="2.9"/><circle cx="386.45" cy="875.91" r="2.9"/><circle cx="385.98" cy="878.10" r="2.9"/><circle cx="385.63" cy="879.85" r="2.9"/><circle cx="385.36" cy="881.26" r="2.9"/><circle cx="385.15" cy="882.39" r="2.9"/><circle cx="385.00" cy="883.30" r="2.9"/><circle cx="384.80" cy="886.70" r="2.9"/></g>
<path d="M527.30 639.30L493.40 673.60L466.60 706.50L447.00 735.60L432.30 760.10L421.30 781.80L413.00 800.10L406.80 815.00L401.60 827.40L397.50 837.80L394.80 847.10L392.30 854.30L390.43 860.75L389.01 865.92L387.92 870.08L387.10 873.41L386.48 876.09L386.00 878.24L385.64 879.97L385.37 881.35L385.16 882.47L385.00 883.36L384.80 886.70" stroke="#000" stroke-width="1.0" fill="none" shape-rendering="crispEdges"/>
<g fill="#808000"><circle cx="527.30" cy="639.30" r="2.9"/><circle cx="493.40" cy="673.60" r="2.9"/><circle cx="466.60" cy="706.50" r="2.9"/><circle cx="447.00" cy="735.60" r="2.9"/><circle cx="432.30" cy="760.10" r="2.9"/><circle cx="421.30" cy="781.80" r="2.9"/><circle cx="413.00" cy="800.10" r="2.9"/><circle cx="406.80" cy="815.00" r="2.9"/><circle cx="401.60" cy="827.40" r="2.9"/><circle cx="397.50" cy="837.80" r="2.9"/><circle cx="394.80" cy="847.10" r="2.9"/><circle cx="392.30" cy="854.30" r="2.9"/><circle cx="390.43" cy="860.75" r="2.9"/><circle cx="389.01" cy="865.92" r="2.9"/><circle cx="387.92" cy="870.08" r="2.9"/><circle cx="387.10" cy="873.41" r="2.9"/><circle cx="386.48" cy="876.09" r="2.9"/><circle cx="386.00" cy="878.24" r="2.9"/><circle cx="385.64" cy="879.97" r="2.9"/><circle cx="385.37" cy="881.35" r="2.9"/><circle cx="385.16" cy="882.47" r="2.9"/><circle cx="385.00" cy="883.36" r="2.9"/><circle cx="384.80" cy="886.70" r="2.9"/></g>
</g>
<rect x="573.50" y="723.60" width="89.90" height="152.90" fill="#fff" stroke="#222" stroke-width="1.3"/>
<path d="M581.20 737.50h20.60" stroke="#111" stroke-width="1"/><circle cx="591.50" cy="737.50" r="2.8" fill="#000000"/><path d="M581.20 750.50h20.60" stroke="#111" stroke-width="1"/><circle cx="591.50" cy="750.02" r="2.8" fill="#ff0000"/><path d="M581.20 762.50h20.60" stroke="#111" stroke-width="1"/><circle cx="591.50" cy="762.54" r="2.8" fill="#00ff00"/><path d="M581.20 775.50h20.60" stroke="#111" stroke-width="1"/><circle cx="591.50" cy="775.06" r="2.8" fill="#0000ff"/><path d="M581.20 787.50h20.60" stroke="#111" stroke-width="1"/><circle cx="591.50" cy="787.58" r="2.8" fill="#ff00ff"/><path d="M581.20 800.50h20.60" stroke="#111" stroke-width="1"/><circle cx="591.50" cy="800.10" r="2.8" fill="#00ffff"/><path d="M581.20 812.50h20.60" stroke="#111" stroke-width="1"/><circle cx="591.50" cy="812.62" r="2.8" fill="#c0c0c0"/><path d="M581.20 825.50h20.60" stroke="#111" stroke-width="1"/><circle cx="591.50" cy="825.14" r="2.8" fill="#800000"/><path d="M581.20 837.50h20.60" stroke="#111" stroke-width="1"/><circle cx="591.50" cy="837.66" r="2.8" fill="#008000"/><path d="M581.20 850.50h20.60" stroke="#111" stroke-width="1"/><circle cx="591.50" cy="850.18" r="2.8" fill="#800080"/><path d="M581.20 862.50h20.60" stroke="#111" stroke-width="1"/><circle cx="591.50" cy="862.70" r="2.8" fill="#808000"/>
<g font-family="Liberation Sans, sans-serif" font-weight="bold" font-size="9.0" letter-spacing="0.5" fill="#1c1c1c"><text transform="translate(606.90,740.70) scale(0.9,1.13)">0 minutes</text><text transform="translate(606.90,753.22) scale(0.9,1.13)">5 minutes</text><text transform="translate(606.90,765.74) scale(0.9,1.13)">10minutes</text><text transform="translate(606.90,778.26) scale(0.9,1.13)">15 minutes</text><text transform="translate(606.90,790.78) scale(0.9,1.13)">20 minutes</text><text transform="translate(606.90,803.30) scale(0.9,1.13)">25 minutes</text><text transform="translate(606.90,815.82) scale(0.9,1.13)">30 minutes</text><text transform="translate(606.90,828.34) scale(0.9,1.13)">35 minutes</text><text transform="translate(606.90,840.86) scale(0.9,1.13)">40 minutes</text><text transform="translate(606.90,853.38) scale(0.9,1.13)">50 minutes</text><text transform="translate(606.90,865.90) scale(0.9,1.13)">60 minutes</text></g>
<text transform="translate(355.50,754.50) rotate(-90) scale(0.93,1.05)" text-anchor="middle" font-family="Liberation Sans, sans-serif" font-weight="bold" font-size="12.25" fill="#1c1c1c">-Z<tspan font-size="6.74" dy="3.67">im</tspan><tspan dy="-3.67">/Ohm.cm</tspan><tspan font-size="6.74" dy="-5.51">2</tspan></text>
<text transform="translate(528.20,913.00) scale(0.93,1.05)" text-anchor="middle" font-family="Liberation Sans, sans-serif" font-weight="bold" font-size="12.0" fill="#1c1c1c">Z<tspan font-size="6.60" dy="3.60">re</tspan><tspan dy="-3.60">/Ohm.cm</tspan><tspan font-size="6.60" dy="-5.40">2</tspan></text>
<text x="650.20" y="649.00" font-family="Liberation Serif, serif" font-weight="bold" font-size="17.5" fill="#1c1c1c">e</text>
<text x="402.60" y="881.90" font-family="Liberation Sans, sans-serif" font-weight="bold" font-size="11.0" letter-spacing="0.3" fill="#1c1c1c">0.5 M</text>
</svg>
</body></html>
